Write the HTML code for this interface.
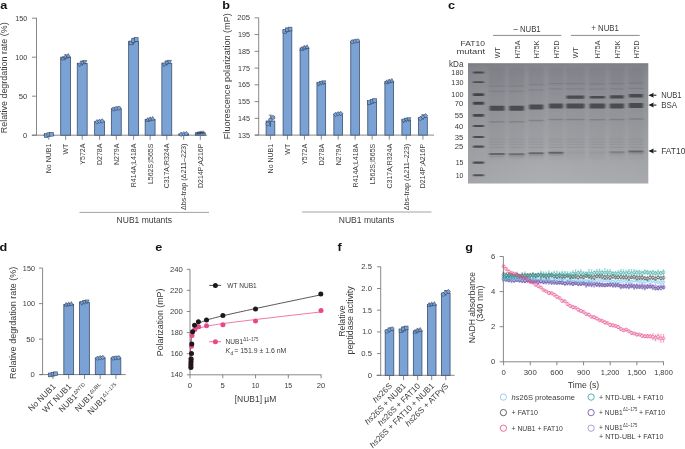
<!DOCTYPE html>
<html><head><meta charset="utf-8"><style>
html,body{margin:0;padding:0;background:#fff;overflow:hidden;}
svg{display:block;font-family:"Liberation Sans", sans-serif;filter:blur(0.3px);}
</style></head><body>
<svg width="685" height="449" viewBox="0 0 685 449">
<rect width="685" height="449" fill="#fff"/>
<text x="0.30" y="8.70" font-size="11.5" text-anchor="start" fill="#141414" font-weight="bold" textLength="7.03" lengthAdjust="spacingAndGlyphs">a</text>
<line x1="36.50" y1="17.80" x2="36.50" y2="135.20" stroke="#6a6a6a" stroke-width="0.8"/>
<line x1="32.00" y1="135.20" x2="36.50" y2="135.20" stroke="#6a6a6a" stroke-width="0.8"/>
<text x="27.30" y="137.65" font-size="6.9" text-anchor="end" fill="#3a3a3a" font-weight="normal" textLength="4.28" lengthAdjust="spacingAndGlyphs">0</text>
<line x1="32.00" y1="96.20" x2="36.50" y2="96.20" stroke="#6a6a6a" stroke-width="0.8"/>
<text x="27.30" y="98.65" font-size="6.9" text-anchor="end" fill="#3a3a3a" font-weight="normal" textLength="8.56" lengthAdjust="spacingAndGlyphs">50</text>
<line x1="32.00" y1="57.20" x2="36.50" y2="57.20" stroke="#6a6a6a" stroke-width="0.8"/>
<text x="27.30" y="59.65" font-size="6.9" text-anchor="end" fill="#3a3a3a" font-weight="normal" textLength="12.01" lengthAdjust="spacingAndGlyphs">100</text>
<line x1="32.00" y1="18.20" x2="36.50" y2="18.20" stroke="#6a6a6a" stroke-width="0.8"/>
<text x="27.30" y="20.65" font-size="6.9" text-anchor="end" fill="#3a3a3a" font-weight="normal" textLength="12.01" lengthAdjust="spacingAndGlyphs">150</text>
<line x1="31.80" y1="135.20" x2="207.20" y2="135.20" stroke="#6a6a6a" stroke-width="0.8"/>
<text x="7.30" y="77.80" font-size="8.8" text-anchor="middle" fill="#3a3a3a" font-weight="normal" transform="rotate(-90 7.30 77.80)" textLength="110.80" lengthAdjust="spacingAndGlyphs">Relative degrdation rate (%)</text>
<rect x="43.85" y="134.97" width="9.90" height="0.23" fill="#7aa2d5" stroke="#3d4f6e" stroke-width="0.8"/>
<rect x="60.70" y="57.20" width="9.90" height="78.00" fill="#7aa2d5" stroke="#3d4f6e" stroke-width="0.8"/>
<rect x="77.25" y="63.44" width="9.90" height="71.76" fill="#7aa2d5" stroke="#3d4f6e" stroke-width="0.8"/>
<rect x="94.65" y="121.47" width="9.90" height="13.73" fill="#7aa2d5" stroke="#3d4f6e" stroke-width="0.8"/>
<rect x="111.35" y="108.68" width="9.90" height="26.52" fill="#7aa2d5" stroke="#3d4f6e" stroke-width="0.8"/>
<rect x="128.65" y="41.37" width="9.90" height="93.83" fill="#7aa2d5" stroke="#3d4f6e" stroke-width="0.8"/>
<rect x="145.15" y="119.37" width="9.90" height="15.83" fill="#7aa2d5" stroke="#3d4f6e" stroke-width="0.8"/>
<rect x="161.85" y="63.28" width="9.90" height="71.92" fill="#7aa2d5" stroke="#3d4f6e" stroke-width="0.8"/>
<rect x="178.75" y="134.03" width="9.90" height="1.17" fill="#7aa2d5" stroke="#3d4f6e" stroke-width="0.8"/>
<rect x="195.35" y="132.86" width="9.90" height="2.34" fill="#7aa2d5" stroke="#3d4f6e" stroke-width="0.8"/>
<line x1="48.80" y1="133.80" x2="48.80" y2="136.14" stroke="#222" stroke-width="0.55"/>
<line x1="47.00" y1="133.80" x2="50.60" y2="133.80" stroke="#222" stroke-width="0.55"/>
<rect x="44.30" y="133.65" width="3.80" height="3.80" fill="#7aa2d5" stroke="#2d3f5c" stroke-width="0.55"/>
<rect x="46.90" y="132.83" width="3.80" height="3.80" fill="#7aa2d5" stroke="#2d3f5c" stroke-width="0.55"/>
<rect x="49.50" y="132.36" width="3.80" height="3.80" fill="#7aa2d5" stroke="#2d3f5c" stroke-width="0.55"/>
<line x1="65.65" y1="54.86" x2="65.65" y2="59.54" stroke="#222" stroke-width="0.55"/>
<line x1="63.85" y1="54.86" x2="67.45" y2="54.86" stroke="#222" stroke-width="0.55"/>
<path d="M63.05 56.09L65.14 59.89L60.96 59.89Z" fill="#7aa2d5" stroke="#2d3f5c" stroke-width="0.55"/>
<path d="M65.65 54.45L67.74 58.25L63.56 58.25Z" fill="#7aa2d5" stroke="#2d3f5c" stroke-width="0.55"/>
<path d="M68.25 53.52L70.34 57.32L66.16 57.32Z" fill="#7aa2d5" stroke="#2d3f5c" stroke-width="0.55"/>
<line x1="82.20" y1="61.10" x2="82.20" y2="65.78" stroke="#222" stroke-width="0.55"/>
<line x1="80.40" y1="61.10" x2="84.00" y2="61.10" stroke="#222" stroke-width="0.55"/>
<path d="M79.60 66.89L81.69 63.09L77.51 63.09Z" fill="#7aa2d5" stroke="#2d3f5c" stroke-width="0.55"/>
<path d="M82.20 65.25L84.29 61.45L80.11 61.45Z" fill="#7aa2d5" stroke="#2d3f5c" stroke-width="0.55"/>
<path d="M84.80 64.32L86.89 60.52L82.71 60.52Z" fill="#7aa2d5" stroke="#2d3f5c" stroke-width="0.55"/>
<line x1="99.60" y1="120.69" x2="99.60" y2="122.25" stroke="#222" stroke-width="0.55"/>
<line x1="97.80" y1="120.69" x2="101.40" y2="120.69" stroke="#222" stroke-width="0.55"/>
<path d="M97.00 119.58L99.09 121.86L97.00 124.14L94.91 121.86Z" fill="#7aa2d5" stroke="#2d3f5c" stroke-width="0.55"/>
<path d="M99.60 119.04L101.69 121.32L99.60 123.60L97.51 121.32Z" fill="#7aa2d5" stroke="#2d3f5c" stroke-width="0.55"/>
<path d="M102.20 118.72L104.29 121.00L102.20 123.28L100.11 121.00Z" fill="#7aa2d5" stroke="#2d3f5c" stroke-width="0.55"/>
<line x1="116.30" y1="107.90" x2="116.30" y2="109.46" stroke="#222" stroke-width="0.55"/>
<line x1="114.50" y1="107.90" x2="118.10" y2="107.90" stroke="#222" stroke-width="0.55"/>
<circle cx="113.70" cy="109.07" r="1.90" fill="#7aa2d5" stroke="#2d3f5c" stroke-width="0.55"/>
<circle cx="116.30" cy="108.52" r="1.90" fill="#7aa2d5" stroke="#2d3f5c" stroke-width="0.55"/>
<circle cx="118.90" cy="108.21" r="1.90" fill="#7aa2d5" stroke="#2d3f5c" stroke-width="0.55"/>
<line x1="133.60" y1="38.25" x2="133.60" y2="44.49" stroke="#222" stroke-width="0.55"/>
<line x1="131.80" y1="38.25" x2="135.40" y2="38.25" stroke="#222" stroke-width="0.55"/>
<rect x="129.10" y="41.03" width="3.80" height="3.80" fill="#7aa2d5" stroke="#2d3f5c" stroke-width="0.55"/>
<rect x="131.70" y="38.84" width="3.80" height="3.80" fill="#7aa2d5" stroke="#2d3f5c" stroke-width="0.55"/>
<rect x="134.30" y="37.59" width="3.80" height="3.80" fill="#7aa2d5" stroke="#2d3f5c" stroke-width="0.55"/>
<line x1="150.10" y1="118.20" x2="150.10" y2="120.54" stroke="#222" stroke-width="0.55"/>
<line x1="148.30" y1="118.20" x2="151.90" y2="118.20" stroke="#222" stroke-width="0.55"/>
<path d="M147.50 117.67L149.59 121.47L145.41 121.47Z" fill="#7aa2d5" stroke="#2d3f5c" stroke-width="0.55"/>
<path d="M150.10 116.85L152.19 120.65L148.01 120.65Z" fill="#7aa2d5" stroke="#2d3f5c" stroke-width="0.55"/>
<path d="M152.70 116.38L154.79 120.18L150.61 120.18Z" fill="#7aa2d5" stroke="#2d3f5c" stroke-width="0.55"/>
<line x1="166.80" y1="60.94" x2="166.80" y2="65.62" stroke="#222" stroke-width="0.55"/>
<line x1="165.00" y1="60.94" x2="168.60" y2="60.94" stroke="#222" stroke-width="0.55"/>
<path d="M164.20 66.73L166.29 62.93L162.11 62.93Z" fill="#7aa2d5" stroke="#2d3f5c" stroke-width="0.55"/>
<path d="M166.80 65.10L168.89 61.30L164.71 61.30Z" fill="#7aa2d5" stroke="#2d3f5c" stroke-width="0.55"/>
<path d="M169.40 64.16L171.49 60.36L167.31 60.36Z" fill="#7aa2d5" stroke="#2d3f5c" stroke-width="0.55"/>
<line x1="183.70" y1="133.41" x2="183.70" y2="134.65" stroke="#222" stroke-width="0.55"/>
<line x1="181.90" y1="133.41" x2="185.50" y2="133.41" stroke="#222" stroke-width="0.55"/>
<path d="M181.10 132.06L183.19 134.34L181.10 136.62L179.01 134.34Z" fill="#7aa2d5" stroke="#2d3f5c" stroke-width="0.55"/>
<path d="M183.70 131.63L185.79 133.91L183.70 136.19L181.61 133.91Z" fill="#7aa2d5" stroke="#2d3f5c" stroke-width="0.55"/>
<path d="M186.30 131.38L188.39 133.66L186.30 135.94L184.21 133.66Z" fill="#7aa2d5" stroke="#2d3f5c" stroke-width="0.55"/>
<line x1="200.30" y1="132.08" x2="200.30" y2="133.64" stroke="#222" stroke-width="0.55"/>
<line x1="198.50" y1="132.08" x2="202.10" y2="132.08" stroke="#222" stroke-width="0.55"/>
<path d="M195.80 133.25H199.60M197.70 131.35V135.15M196.37 131.92L199.03 134.58M199.03 131.92L196.37 134.58" stroke="#2d3f5c" stroke-width="0.55"/>
<path d="M198.40 132.70H202.20M200.30 130.80V134.60M198.97 131.37L201.63 134.03M201.63 131.37L198.97 134.03" stroke="#2d3f5c" stroke-width="0.55"/>
<path d="M201.00 132.39H204.80M202.90 130.49V134.29M201.57 131.06L204.23 133.72M204.23 131.06L201.57 133.72" stroke="#2d3f5c" stroke-width="0.55"/>
<line x1="48.80" y1="135.20" x2="48.80" y2="139.80" stroke="#6a6a6a" stroke-width="0.8"/>
<text x="51.30" y="143.60" font-size="7" text-anchor="end" fill="#3a3a3a" font-weight="normal" transform="rotate(-90 51.30 143.60)">No NUB1</text>
<line x1="65.65" y1="135.20" x2="65.65" y2="139.80" stroke="#6a6a6a" stroke-width="0.8"/>
<text x="68.15" y="143.60" font-size="7" text-anchor="end" fill="#3a3a3a" font-weight="normal" transform="rotate(-90 68.15 143.60)">WT</text>
<line x1="82.20" y1="135.20" x2="82.20" y2="139.80" stroke="#6a6a6a" stroke-width="0.8"/>
<text x="84.70" y="143.60" font-size="7" text-anchor="end" fill="#3a3a3a" font-weight="normal" transform="rotate(-90 84.70 143.60)">Y572A</text>
<line x1="99.60" y1="135.20" x2="99.60" y2="139.80" stroke="#6a6a6a" stroke-width="0.8"/>
<text x="102.10" y="143.60" font-size="7" text-anchor="end" fill="#3a3a3a" font-weight="normal" transform="rotate(-90 102.10 143.60)">D278A</text>
<line x1="116.30" y1="135.20" x2="116.30" y2="139.80" stroke="#6a6a6a" stroke-width="0.8"/>
<text x="118.80" y="143.60" font-size="7" text-anchor="end" fill="#3a3a3a" font-weight="normal" transform="rotate(-90 118.80 143.60)">N279A</text>
<line x1="133.60" y1="135.20" x2="133.60" y2="139.80" stroke="#6a6a6a" stroke-width="0.8"/>
<text x="136.10" y="143.60" font-size="7" text-anchor="end" fill="#3a3a3a" font-weight="normal" transform="rotate(-90 136.10 143.60)">R414A;L418A</text>
<line x1="150.10" y1="135.20" x2="150.10" y2="139.80" stroke="#6a6a6a" stroke-width="0.8"/>
<text x="152.60" y="143.60" font-size="7" text-anchor="end" fill="#3a3a3a" font-weight="normal" transform="rotate(-90 152.60 143.60)">L562S;I565S</text>
<line x1="166.80" y1="135.20" x2="166.80" y2="139.80" stroke="#6a6a6a" stroke-width="0.8"/>
<text x="169.30" y="143.60" font-size="7" text-anchor="end" fill="#3a3a3a" font-weight="normal" transform="rotate(-90 169.30 143.60)">C317A;R324A</text>
<line x1="183.70" y1="135.20" x2="183.70" y2="139.80" stroke="#6a6a6a" stroke-width="0.8"/>
<text x="186.20" y="143.60" font-size="7" text-anchor="end" fill="#3a3a3a" font-weight="normal" transform="rotate(-90 186.20 143.60)" textLength="66.50" lengthAdjust="spacingAndGlyphs">Δbs-trap (Δ211–223)</text>
<line x1="200.30" y1="135.20" x2="200.30" y2="139.80" stroke="#6a6a6a" stroke-width="0.8"/>
<text x="202.80" y="143.60" font-size="7" text-anchor="end" fill="#3a3a3a" font-weight="normal" transform="rotate(-90 202.80 143.60)">D214P;A216P</text>
<line x1="79.50" y1="212.40" x2="209.00" y2="212.40" stroke="#8a8a8a" stroke-width="0.8"/>
<text x="144.30" y="222.90" font-size="8.4" text-anchor="middle" fill="#3a3a3a" font-weight="normal" textLength="55.40" lengthAdjust="spacingAndGlyphs">NUB1 mutants</text>
<text x="222.20" y="9.00" font-size="11.5" text-anchor="start" fill="#141414" font-weight="bold" textLength="7.73" lengthAdjust="spacingAndGlyphs">b</text>
<line x1="258.70" y1="17.80" x2="258.70" y2="135.10" stroke="#6a6a6a" stroke-width="0.8"/>
<line x1="254.60" y1="135.10" x2="258.70" y2="135.10" stroke="#6a6a6a" stroke-width="0.8"/>
<text x="250.00" y="137.55" font-size="6.9" text-anchor="end" fill="#3a3a3a" font-weight="normal" textLength="12.01" lengthAdjust="spacingAndGlyphs">135</text>
<line x1="254.60" y1="118.35" x2="258.70" y2="118.35" stroke="#6a6a6a" stroke-width="0.8"/>
<text x="250.00" y="120.80" font-size="6.9" text-anchor="end" fill="#3a3a3a" font-weight="normal" textLength="12.01" lengthAdjust="spacingAndGlyphs">145</text>
<line x1="254.60" y1="101.60" x2="258.70" y2="101.60" stroke="#6a6a6a" stroke-width="0.8"/>
<text x="250.00" y="104.05" font-size="6.9" text-anchor="end" fill="#3a3a3a" font-weight="normal" textLength="12.01" lengthAdjust="spacingAndGlyphs">155</text>
<line x1="254.60" y1="84.85" x2="258.70" y2="84.85" stroke="#6a6a6a" stroke-width="0.8"/>
<text x="250.00" y="87.30" font-size="6.9" text-anchor="end" fill="#3a3a3a" font-weight="normal" textLength="12.01" lengthAdjust="spacingAndGlyphs">165</text>
<line x1="254.60" y1="68.10" x2="258.70" y2="68.10" stroke="#6a6a6a" stroke-width="0.8"/>
<text x="250.00" y="70.55" font-size="6.9" text-anchor="end" fill="#3a3a3a" font-weight="normal" textLength="12.01" lengthAdjust="spacingAndGlyphs">175</text>
<line x1="254.60" y1="51.35" x2="258.70" y2="51.35" stroke="#6a6a6a" stroke-width="0.8"/>
<text x="250.00" y="53.80" font-size="6.9" text-anchor="end" fill="#3a3a3a" font-weight="normal" textLength="12.01" lengthAdjust="spacingAndGlyphs">185</text>
<line x1="254.60" y1="34.60" x2="258.70" y2="34.60" stroke="#6a6a6a" stroke-width="0.8"/>
<text x="250.00" y="37.05" font-size="6.9" text-anchor="end" fill="#3a3a3a" font-weight="normal" textLength="12.01" lengthAdjust="spacingAndGlyphs">195</text>
<line x1="254.60" y1="17.85" x2="258.70" y2="17.85" stroke="#6a6a6a" stroke-width="0.8"/>
<text x="250.00" y="20.30" font-size="6.9" text-anchor="end" fill="#3a3a3a" font-weight="normal" textLength="12.83" lengthAdjust="spacingAndGlyphs">205</text>
<line x1="255.00" y1="135.10" x2="434.00" y2="135.10" stroke="#6a6a6a" stroke-width="0.8"/>
<text x="230.00" y="76.20" font-size="8.8" text-anchor="middle" fill="#3a3a3a" font-weight="normal" transform="rotate(-90 230.00 76.20)" textLength="126.00" lengthAdjust="spacingAndGlyphs">Fluorescence polarization (mP)</text>
<rect x="266.10" y="121.03" width="8.70" height="14.07" fill="#7aa2d5" stroke="#3d4f6e" stroke-width="0.8"/>
<rect x="283.10" y="30.25" width="8.70" height="104.85" fill="#7aa2d5" stroke="#3d4f6e" stroke-width="0.8"/>
<rect x="300.10" y="48.00" width="8.70" height="87.10" fill="#7aa2d5" stroke="#3d4f6e" stroke-width="0.8"/>
<rect x="316.95" y="83.17" width="8.70" height="51.93" fill="#7aa2d5" stroke="#3d4f6e" stroke-width="0.8"/>
<rect x="333.85" y="114.00" width="8.70" height="21.10" fill="#7aa2d5" stroke="#3d4f6e" stroke-width="0.8"/>
<rect x="350.75" y="41.30" width="8.70" height="93.80" fill="#7aa2d5" stroke="#3d4f6e" stroke-width="0.8"/>
<rect x="367.75" y="101.60" width="8.70" height="33.50" fill="#7aa2d5" stroke="#3d4f6e" stroke-width="0.8"/>
<rect x="384.90" y="81.50" width="8.70" height="53.60" fill="#7aa2d5" stroke="#3d4f6e" stroke-width="0.8"/>
<rect x="401.90" y="120.02" width="8.70" height="15.08" fill="#7aa2d5" stroke="#3d4f6e" stroke-width="0.8"/>
<rect x="418.60" y="117.34" width="8.70" height="17.75" fill="#7aa2d5" stroke="#3d4f6e" stroke-width="0.8"/>
<line x1="270.45" y1="115.17" x2="270.45" y2="126.89" stroke="#222" stroke-width="0.55"/>
<line x1="268.65" y1="115.17" x2="272.25" y2="115.17" stroke="#222" stroke-width="0.55"/>
<circle cx="267.85" cy="123.96" r="1.90" fill="#7aa2d5" stroke="#2d3f5c" stroke-width="0.55"/>
<circle cx="270.45" cy="119.86" r="1.90" fill="#7aa2d5" stroke="#2d3f5c" stroke-width="0.55"/>
<circle cx="273.05" cy="117.51" r="1.90" fill="#7aa2d5" stroke="#2d3f5c" stroke-width="0.55"/>
<line x1="287.45" y1="28.24" x2="287.45" y2="32.25" stroke="#222" stroke-width="0.55"/>
<line x1="285.65" y1="28.24" x2="289.25" y2="28.24" stroke="#222" stroke-width="0.55"/>
<rect x="282.95" y="29.35" width="3.80" height="3.80" fill="#7aa2d5" stroke="#2d3f5c" stroke-width="0.55"/>
<rect x="285.55" y="27.94" width="3.80" height="3.80" fill="#7aa2d5" stroke="#2d3f5c" stroke-width="0.55"/>
<rect x="288.15" y="27.14" width="3.80" height="3.80" fill="#7aa2d5" stroke="#2d3f5c" stroke-width="0.55"/>
<line x1="304.45" y1="46.32" x2="304.45" y2="49.67" stroke="#222" stroke-width="0.55"/>
<line x1="302.65" y1="46.32" x2="306.25" y2="46.32" stroke="#222" stroke-width="0.55"/>
<path d="M301.85 46.56L303.94 50.36L299.76 50.36Z" fill="#7aa2d5" stroke="#2d3f5c" stroke-width="0.55"/>
<path d="M304.45 45.39L306.54 49.19L302.36 49.19Z" fill="#7aa2d5" stroke="#2d3f5c" stroke-width="0.55"/>
<path d="M307.05 44.72L309.14 48.52L304.96 48.52Z" fill="#7aa2d5" stroke="#2d3f5c" stroke-width="0.55"/>
<line x1="321.30" y1="81.83" x2="321.30" y2="84.52" stroke="#222" stroke-width="0.55"/>
<line x1="319.50" y1="81.83" x2="323.10" y2="81.83" stroke="#222" stroke-width="0.55"/>
<path d="M318.70 86.12L320.79 82.33L316.61 82.33Z" fill="#7aa2d5" stroke="#2d3f5c" stroke-width="0.55"/>
<path d="M321.30 85.19L323.39 81.39L319.21 81.39Z" fill="#7aa2d5" stroke="#2d3f5c" stroke-width="0.55"/>
<path d="M323.90 84.65L325.99 80.85L321.81 80.85Z" fill="#7aa2d5" stroke="#2d3f5c" stroke-width="0.55"/>
<line x1="338.20" y1="113.16" x2="338.20" y2="114.83" stroke="#222" stroke-width="0.55"/>
<line x1="336.40" y1="113.16" x2="340.00" y2="113.16" stroke="#222" stroke-width="0.55"/>
<path d="M335.60 112.13L337.69 114.41L335.60 116.69L333.51 114.41Z" fill="#7aa2d5" stroke="#2d3f5c" stroke-width="0.55"/>
<path d="M338.20 111.55L340.29 113.83L338.20 116.11L336.11 113.83Z" fill="#7aa2d5" stroke="#2d3f5c" stroke-width="0.55"/>
<path d="M340.80 111.21L342.89 113.49L340.80 115.77L338.71 113.49Z" fill="#7aa2d5" stroke="#2d3f5c" stroke-width="0.55"/>
<line x1="355.10" y1="40.46" x2="355.10" y2="42.14" stroke="#222" stroke-width="0.55"/>
<line x1="353.30" y1="40.46" x2="356.90" y2="40.46" stroke="#222" stroke-width="0.55"/>
<circle cx="352.50" cy="41.72" r="1.90" fill="#7aa2d5" stroke="#2d3f5c" stroke-width="0.55"/>
<circle cx="355.10" cy="41.13" r="1.90" fill="#7aa2d5" stroke="#2d3f5c" stroke-width="0.55"/>
<circle cx="357.70" cy="40.80" r="1.90" fill="#7aa2d5" stroke="#2d3f5c" stroke-width="0.55"/>
<line x1="372.10" y1="99.92" x2="372.10" y2="103.27" stroke="#222" stroke-width="0.55"/>
<line x1="370.30" y1="99.92" x2="373.90" y2="99.92" stroke="#222" stroke-width="0.55"/>
<rect x="367.60" y="100.54" width="3.80" height="3.80" fill="#7aa2d5" stroke="#2d3f5c" stroke-width="0.55"/>
<rect x="370.20" y="99.37" width="3.80" height="3.80" fill="#7aa2d5" stroke="#2d3f5c" stroke-width="0.55"/>
<rect x="372.80" y="98.69" width="3.80" height="3.80" fill="#7aa2d5" stroke="#2d3f5c" stroke-width="0.55"/>
<line x1="389.25" y1="80.16" x2="389.25" y2="82.84" stroke="#222" stroke-width="0.55"/>
<line x1="387.45" y1="80.16" x2="391.05" y2="80.16" stroke="#222" stroke-width="0.55"/>
<path d="M386.65 79.89L388.74 83.69L384.56 83.69Z" fill="#7aa2d5" stroke="#2d3f5c" stroke-width="0.55"/>
<path d="M389.25 78.95L391.34 82.75L387.16 82.75Z" fill="#7aa2d5" stroke="#2d3f5c" stroke-width="0.55"/>
<path d="M391.85 78.42L393.94 82.22L389.76 82.22Z" fill="#7aa2d5" stroke="#2d3f5c" stroke-width="0.55"/>
<line x1="406.25" y1="118.68" x2="406.25" y2="121.37" stroke="#222" stroke-width="0.55"/>
<line x1="404.45" y1="118.68" x2="408.05" y2="118.68" stroke="#222" stroke-width="0.55"/>
<path d="M403.65 122.98L405.74 119.18L401.56 119.18Z" fill="#7aa2d5" stroke="#2d3f5c" stroke-width="0.55"/>
<path d="M406.25 122.04L408.34 118.24L404.16 118.24Z" fill="#7aa2d5" stroke="#2d3f5c" stroke-width="0.55"/>
<path d="M408.85 121.50L410.94 117.70L406.76 117.70Z" fill="#7aa2d5" stroke="#2d3f5c" stroke-width="0.55"/>
<line x1="422.95" y1="114.83" x2="422.95" y2="119.86" stroke="#222" stroke-width="0.55"/>
<line x1="421.15" y1="114.83" x2="424.75" y2="114.83" stroke="#222" stroke-width="0.55"/>
<path d="M420.35 116.32L422.44 118.60L420.35 120.88L418.26 118.60Z" fill="#7aa2d5" stroke="#2d3f5c" stroke-width="0.55"/>
<path d="M422.95 114.56L425.04 116.84L422.95 119.12L420.86 116.84Z" fill="#7aa2d5" stroke="#2d3f5c" stroke-width="0.55"/>
<path d="M425.55 113.56L427.64 115.84L425.55 118.12L423.46 115.84Z" fill="#7aa2d5" stroke="#2d3f5c" stroke-width="0.55"/>
<line x1="270.45" y1="135.10" x2="270.45" y2="139.60" stroke="#6a6a6a" stroke-width="0.8"/>
<text x="272.95" y="143.80" font-size="7" text-anchor="end" fill="#3a3a3a" font-weight="normal" transform="rotate(-90 272.95 143.80)">No NUB1</text>
<line x1="287.45" y1="135.10" x2="287.45" y2="139.60" stroke="#6a6a6a" stroke-width="0.8"/>
<text x="289.95" y="143.80" font-size="7" text-anchor="end" fill="#3a3a3a" font-weight="normal" transform="rotate(-90 289.95 143.80)">WT</text>
<line x1="304.45" y1="135.10" x2="304.45" y2="139.60" stroke="#6a6a6a" stroke-width="0.8"/>
<text x="306.95" y="143.80" font-size="7" text-anchor="end" fill="#3a3a3a" font-weight="normal" transform="rotate(-90 306.95 143.80)">Y572A</text>
<line x1="321.30" y1="135.10" x2="321.30" y2="139.60" stroke="#6a6a6a" stroke-width="0.8"/>
<text x="323.80" y="143.80" font-size="7" text-anchor="end" fill="#3a3a3a" font-weight="normal" transform="rotate(-90 323.80 143.80)">D278A</text>
<line x1="338.20" y1="135.10" x2="338.20" y2="139.60" stroke="#6a6a6a" stroke-width="0.8"/>
<text x="340.70" y="143.80" font-size="7" text-anchor="end" fill="#3a3a3a" font-weight="normal" transform="rotate(-90 340.70 143.80)">N279A</text>
<line x1="355.10" y1="135.10" x2="355.10" y2="139.60" stroke="#6a6a6a" stroke-width="0.8"/>
<text x="357.60" y="143.80" font-size="7" text-anchor="end" fill="#3a3a3a" font-weight="normal" transform="rotate(-90 357.60 143.80)">R414A;L418A</text>
<line x1="372.10" y1="135.10" x2="372.10" y2="139.60" stroke="#6a6a6a" stroke-width="0.8"/>
<text x="374.60" y="143.80" font-size="7" text-anchor="end" fill="#3a3a3a" font-weight="normal" transform="rotate(-90 374.60 143.80)">L562S;I565S</text>
<line x1="389.25" y1="135.10" x2="389.25" y2="139.60" stroke="#6a6a6a" stroke-width="0.8"/>
<text x="391.75" y="143.80" font-size="7" text-anchor="end" fill="#3a3a3a" font-weight="normal" transform="rotate(-90 391.75 143.80)">C317A;R324A</text>
<line x1="406.25" y1="135.10" x2="406.25" y2="139.60" stroke="#6a6a6a" stroke-width="0.8"/>
<text x="408.75" y="143.80" font-size="7" text-anchor="end" fill="#3a3a3a" font-weight="normal" transform="rotate(-90 408.75 143.80)" textLength="66.50" lengthAdjust="spacingAndGlyphs">Δbs-trap (Δ211–223)</text>
<line x1="422.95" y1="135.10" x2="422.95" y2="139.60" stroke="#6a6a6a" stroke-width="0.8"/>
<text x="425.45" y="143.80" font-size="7" text-anchor="end" fill="#3a3a3a" font-weight="normal" transform="rotate(-90 425.45 143.80)">D214P;A216P</text>
<line x1="302.00" y1="212.00" x2="431.50" y2="212.00" stroke="#8a8a8a" stroke-width="0.8"/>
<text x="366.50" y="222.60" font-size="8.4" text-anchor="middle" fill="#3a3a3a" font-weight="normal" textLength="55.40" lengthAdjust="spacingAndGlyphs">NUB1 mutants</text>
<text x="448.10" y="9.10" font-size="11.5" text-anchor="start" fill="#141414" font-weight="bold" textLength="7.03" lengthAdjust="spacingAndGlyphs">c</text>
<text x="527.10" y="31.60" font-size="8.3" text-anchor="middle" fill="#3a3a3a" font-weight="normal" textLength="27.20" lengthAdjust="spacingAndGlyphs">– NUB1</text>
<line x1="493.00" y1="35.40" x2="561.30" y2="35.40" stroke="#666" stroke-width="0.75"/>
<text x="605.10" y="31.40" font-size="8.3" text-anchor="middle" fill="#3a3a3a" font-weight="normal" textLength="27.60" lengthAdjust="spacingAndGlyphs">+ NUB1</text>
<line x1="571.00" y1="35.40" x2="639.70" y2="35.40" stroke="#666" stroke-width="0.75"/>
<text x="485.00" y="45.80" font-size="8.0" text-anchor="end" fill="#3a3a3a" font-weight="normal" textLength="24.40" lengthAdjust="spacingAndGlyphs">FAT10</text>
<text x="485.00" y="54.10" font-size="8.0" text-anchor="end" fill="#3a3a3a" font-weight="normal" textLength="28.60" lengthAdjust="spacingAndGlyphs">mutant</text>
<text x="449.00" y="66.60" font-size="8.2" text-anchor="start" fill="#3a3a3a" font-weight="normal" textLength="14.40" lengthAdjust="spacingAndGlyphs">kDa</text>
<text x="499.95" y="58.20" font-size="7.4" text-anchor="start" fill="#3a3a3a" font-weight="normal" transform="rotate(-90 499.95 58.20)" textLength="11.20" lengthAdjust="spacingAndGlyphs">WT</text>
<text x="519.55" y="58.20" font-size="7.4" text-anchor="start" fill="#3a3a3a" font-weight="normal" transform="rotate(-90 519.55 58.20)" textLength="17.60" lengthAdjust="spacingAndGlyphs">H75A</text>
<text x="539.10" y="58.20" font-size="7.4" text-anchor="start" fill="#3a3a3a" font-weight="normal" transform="rotate(-90 539.10 58.20)" textLength="17.60" lengthAdjust="spacingAndGlyphs">H75K</text>
<text x="558.90" y="58.20" font-size="7.4" text-anchor="start" fill="#3a3a3a" font-weight="normal" transform="rotate(-90 558.90 58.20)" textLength="17.60" lengthAdjust="spacingAndGlyphs">H75D</text>
<text x="578.30" y="58.20" font-size="7.4" text-anchor="start" fill="#3a3a3a" font-weight="normal" transform="rotate(-90 578.30 58.20)" textLength="11.20" lengthAdjust="spacingAndGlyphs">WT</text>
<text x="600.30" y="58.20" font-size="7.4" text-anchor="start" fill="#3a3a3a" font-weight="normal" transform="rotate(-90 600.30 58.20)" textLength="17.60" lengthAdjust="spacingAndGlyphs">H75A</text>
<text x="619.80" y="58.20" font-size="7.4" text-anchor="start" fill="#3a3a3a" font-weight="normal" transform="rotate(-90 619.80 58.20)" textLength="17.60" lengthAdjust="spacingAndGlyphs">H75K</text>
<text x="638.80" y="58.20" font-size="7.4" text-anchor="start" fill="#3a3a3a" font-weight="normal" transform="rotate(-90 638.80 58.20)" textLength="17.60" lengthAdjust="spacingAndGlyphs">H75D</text>
<text x="463.40" y="74.90" font-size="6.9" text-anchor="end" fill="#3a3a3a" font-weight="normal" textLength="12.01" lengthAdjust="spacingAndGlyphs">180</text>
<text x="463.40" y="84.60" font-size="6.9" text-anchor="end" fill="#3a3a3a" font-weight="normal" textLength="12.01" lengthAdjust="spacingAndGlyphs">130</text>
<text x="463.40" y="97.20" font-size="6.9" text-anchor="end" fill="#3a3a3a" font-weight="normal" textLength="12.01" lengthAdjust="spacingAndGlyphs">100</text>
<text x="463.40" y="105.70" font-size="6.9" text-anchor="end" fill="#3a3a3a" font-weight="normal" textLength="8.56" lengthAdjust="spacingAndGlyphs">70</text>
<text x="463.40" y="117.80" font-size="6.9" text-anchor="end" fill="#3a3a3a" font-weight="normal" textLength="8.56" lengthAdjust="spacingAndGlyphs">55</text>
<text x="463.40" y="128.50" font-size="6.9" text-anchor="end" fill="#3a3a3a" font-weight="normal" textLength="8.56" lengthAdjust="spacingAndGlyphs">40</text>
<text x="463.40" y="139.50" font-size="6.9" text-anchor="end" fill="#3a3a3a" font-weight="normal" textLength="8.56" lengthAdjust="spacingAndGlyphs">35</text>
<text x="463.40" y="149.20" font-size="6.9" text-anchor="end" fill="#3a3a3a" font-weight="normal" textLength="8.56" lengthAdjust="spacingAndGlyphs">25</text>
<text x="463.40" y="165.10" font-size="6.9" text-anchor="end" fill="#3a3a3a" font-weight="normal" textLength="7.73" lengthAdjust="spacingAndGlyphs">15</text>
<text x="463.40" y="177.80" font-size="6.9" text-anchor="end" fill="#3a3a3a" font-weight="normal" textLength="7.73" lengthAdjust="spacingAndGlyphs">10</text>
<defs><linearGradient id="gg" x1="0" y1="0" x2="0" y2="1"><stop offset="0" stop-color="#818288"/><stop offset="0.03" stop-color="#898a90"/><stop offset="0.12" stop-color="#8f9096"/><stop offset="0.4" stop-color="#9a9b9f"/><stop offset="0.7" stop-color="#a5a6a9"/><stop offset="1" stop-color="#adaeb1"/></linearGradient><linearGradient id="gh" x1="0" y1="0" x2="1" y2="0"><stop offset="0" stop-color="#000" stop-opacity="0.05"/><stop offset="0.4" stop-color="#000" stop-opacity="0"/><stop offset="1" stop-color="#000" stop-opacity="0.03"/></linearGradient><filter id="bl" color-interpolation-filters="sRGB" x="-30%" y="-300%" width="160%" height="700%"><feGaussianBlur stdDeviation="1.0 0.6"/></filter><filter id="bl2" color-interpolation-filters="sRGB" x="-30%" y="-50%" width="160%" height="200%"><feGaussianBlur stdDeviation="1.0 1.5"/></filter></defs>
<rect x="468.0" y="63.2" width="180.3" height="120.3" fill="url(#gg)"/>
<rect x="468.0" y="63.2" width="180.3" height="120.3" fill="url(#gh)"/>
<g filter="url(#bl2)"><rect x="489.20" y="67" width="15.7" height="18" fill="#50535f" opacity="0.13"/><rect x="489.20" y="85" width="15.7" height="40" fill="#50535f" opacity="0.07"/><rect x="489.20" y="125" width="15.7" height="35" fill="#50535f" opacity="0.06"/><rect x="508.80" y="67" width="15.7" height="18" fill="#50535f" opacity="0.13"/><rect x="508.80" y="85" width="15.7" height="40" fill="#50535f" opacity="0.07"/><rect x="508.80" y="125" width="15.7" height="35" fill="#50535f" opacity="0.06"/><rect x="528.65" y="67" width="15.1" height="18" fill="#50535f" opacity="0.13"/><rect x="528.65" y="85" width="15.1" height="40" fill="#50535f" opacity="0.07"/><rect x="528.65" y="125" width="15.1" height="35" fill="#50535f" opacity="0.06"/><rect x="548.60" y="67" width="14.8" height="18" fill="#50535f" opacity="0.13"/><rect x="548.60" y="85" width="14.8" height="40" fill="#50535f" opacity="0.07"/><rect x="548.60" y="125" width="14.8" height="35" fill="#50535f" opacity="0.06"/><rect x="565.90" y="67" width="19.0" height="18" fill="#50535f" opacity="0.13"/><rect x="565.90" y="85" width="19.0" height="40" fill="#50535f" opacity="0.07"/><rect x="565.90" y="125" width="19.0" height="35" fill="#50535f" opacity="0.06"/><rect x="589.15" y="67" width="16.5" height="18" fill="#50535f" opacity="0.13"/><rect x="589.15" y="85" width="16.5" height="40" fill="#50535f" opacity="0.07"/><rect x="589.15" y="125" width="16.5" height="35" fill="#50535f" opacity="0.06"/><rect x="609.35" y="67" width="15.1" height="18" fill="#50535f" opacity="0.13"/><rect x="609.35" y="85" width="15.1" height="40" fill="#50535f" opacity="0.07"/><rect x="609.35" y="125" width="15.1" height="35" fill="#50535f" opacity="0.06"/><rect x="628.35" y="67" width="15.1" height="18" fill="#50535f" opacity="0.13"/><rect x="628.35" y="85" width="15.1" height="40" fill="#50535f" opacity="0.07"/><rect x="628.35" y="125" width="15.1" height="35" fill="#50535f" opacity="0.06"/></g>
<g filter="url(#bl)"><rect x="473.0" y="71.40" width="11.0" height="2.0" rx="0.6" fill="#36373d" opacity="0.8"/><rect x="473.0" y="81.20" width="11.0" height="1.8" rx="0.6" fill="#36373d" opacity="0.75"/><rect x="473.0" y="93.35" width="11.0" height="2.7" rx="0.6" fill="#36373d" opacity="0.85"/><rect x="473.0" y="101.70" width="11.0" height="3.0" rx="0.6" fill="#36373d" opacity="0.88"/><rect x="473.0" y="113.95" width="11.0" height="2.7" rx="0.6" fill="#36373d" opacity="0.85"/><rect x="473.0" y="125.00" width="11.0" height="2.0" rx="0.6" fill="#36373d" opacity="0.8"/><rect x="473.0" y="135.95" width="11.0" height="2.1" rx="0.6" fill="#36373d" opacity="0.8"/><rect x="473.0" y="145.60" width="11.0" height="2.2" rx="0.6" fill="#36373d" opacity="0.8"/><rect x="473.0" y="161.45" width="11.0" height="2.3" rx="0.6" fill="#36373d" opacity="0.82"/><rect x="473.0" y="174.35" width="11.0" height="1.9" rx="0.6" fill="#36373d" opacity="0.75"/><rect x="489.60" y="105.80" width="14.899999999999999" height="5.0" rx="0.8" fill="#36373d" opacity="0.78"/><rect x="489.20" y="85.55" width="15.7" height="1.1" fill="#36373d" opacity="0.15"/><rect x="489.20" y="90.75" width="15.7" height="1.1" fill="#36373d" opacity="0.15"/><rect x="489.20" y="121.25" width="15.7" height="1.3" fill="#36373d" opacity="0.24"/><rect x="489.20" y="138.60" width="15.7" height="1.2" fill="#36373d" opacity="0.07"/><rect x="489.20" y="141.20" width="15.7" height="1.2" fill="#36373d" opacity="0.06"/><rect x="489.20" y="143.80" width="15.7" height="1.2" fill="#36373d" opacity="0.06"/><rect x="489.20" y="146.80" width="15.7" height="1.2" fill="#36373d" opacity="0.09"/><rect x="489.20" y="153.00" width="15.7" height="2.0" rx="0.5" fill="#36373d" opacity="0.55"/><rect x="489.20" y="155.30" width="15.7" height="1.8" fill="#36373d" opacity="0.11"/><rect x="509.20" y="105.70" width="14.899999999999999" height="5.0" rx="0.8" fill="#36373d" opacity="0.78"/><rect x="508.80" y="85.45" width="15.7" height="1.1" fill="#36373d" opacity="0.15"/><rect x="508.80" y="90.65" width="15.7" height="1.1" fill="#36373d" opacity="0.15"/><rect x="508.80" y="121.15" width="15.7" height="1.3" fill="#36373d" opacity="0.24"/><rect x="508.80" y="138.60" width="15.7" height="1.2" fill="#36373d" opacity="0.07"/><rect x="508.80" y="141.20" width="15.7" height="1.2" fill="#36373d" opacity="0.06"/><rect x="508.80" y="143.80" width="15.7" height="1.2" fill="#36373d" opacity="0.06"/><rect x="508.80" y="146.80" width="15.7" height="1.2" fill="#36373d" opacity="0.09"/><rect x="508.80" y="153.30" width="15.7" height="2.0" rx="0.5" fill="#36373d" opacity="0.5"/><rect x="508.80" y="155.60" width="15.7" height="1.8" fill="#36373d" opacity="0.10"/><rect x="529.05" y="104.40" width="14.299999999999999" height="5.0" rx="0.8" fill="#36373d" opacity="0.78"/><rect x="528.65" y="84.15" width="15.1" height="1.1" fill="#36373d" opacity="0.15"/><rect x="528.65" y="89.35" width="15.1" height="1.1" fill="#36373d" opacity="0.15"/><rect x="528.65" y="119.85" width="15.1" height="1.3" fill="#36373d" opacity="0.24"/><rect x="528.65" y="138.60" width="15.1" height="1.2" fill="#36373d" opacity="0.07"/><rect x="528.65" y="141.20" width="15.1" height="1.2" fill="#36373d" opacity="0.06"/><rect x="528.65" y="143.80" width="15.1" height="1.2" fill="#36373d" opacity="0.06"/><rect x="528.65" y="146.80" width="15.1" height="1.2" fill="#36373d" opacity="0.09"/><rect x="528.65" y="152.20" width="15.1" height="2.0" rx="0.5" fill="#36373d" opacity="0.55"/><rect x="528.65" y="154.50" width="15.1" height="1.8" fill="#36373d" opacity="0.11"/><rect x="549.00" y="103.40" width="14.0" height="5.0" rx="0.8" fill="#36373d" opacity="0.78"/><rect x="548.60" y="83.15" width="14.8" height="1.1" fill="#36373d" opacity="0.15"/><rect x="548.60" y="88.35" width="14.8" height="1.1" fill="#36373d" opacity="0.15"/><rect x="548.60" y="118.85" width="14.8" height="1.3" fill="#36373d" opacity="0.24"/><rect x="548.60" y="138.60" width="14.8" height="1.2" fill="#36373d" opacity="0.07"/><rect x="548.60" y="141.20" width="14.8" height="1.2" fill="#36373d" opacity="0.06"/><rect x="548.60" y="143.80" width="14.8" height="1.2" fill="#36373d" opacity="0.06"/><rect x="548.60" y="146.80" width="14.8" height="1.2" fill="#36373d" opacity="0.09"/><rect x="548.60" y="151.70" width="14.8" height="2.0" rx="0.5" fill="#36373d" opacity="0.6"/><rect x="548.60" y="154.00" width="14.8" height="1.8" fill="#36373d" opacity="0.12"/><rect x="566.30" y="103.40" width="18.2" height="5.0" rx="0.8" fill="#36373d" opacity="0.78"/><rect x="565.90" y="83.15" width="19.0" height="1.1" fill="#36373d" opacity="0.15"/><rect x="565.90" y="88.35" width="19.0" height="1.1" fill="#36373d" opacity="0.15"/><rect x="565.90" y="118.85" width="19.0" height="1.3" fill="#36373d" opacity="0.24"/><rect x="565.90" y="138.60" width="19.0" height="1.2" fill="#36373d" opacity="0.07"/><rect x="565.90" y="141.20" width="19.0" height="1.2" fill="#36373d" opacity="0.06"/><rect x="565.90" y="143.80" width="19.0" height="1.2" fill="#36373d" opacity="0.06"/><rect x="565.90" y="146.80" width="19.0" height="1.2" fill="#36373d" opacity="0.09"/><rect x="566.50" y="95.50" width="17.8" height="3.2" rx="0.6" fill="#36373d" opacity="0.78"/><rect x="565.90" y="151.50" width="19.0" height="2.0" rx="0.5" fill="#36373d" opacity="0.04"/><rect x="565.90" y="153.80" width="19.0" height="1.8" fill="#36373d" opacity="0.01"/><rect x="589.55" y="103.60" width="15.7" height="5.0" rx="0.8" fill="#36373d" opacity="0.78"/><rect x="589.15" y="83.35" width="16.5" height="1.1" fill="#36373d" opacity="0.15"/><rect x="589.15" y="88.55" width="16.5" height="1.1" fill="#36373d" opacity="0.15"/><rect x="589.15" y="119.05" width="16.5" height="1.3" fill="#36373d" opacity="0.24"/><rect x="589.15" y="138.60" width="16.5" height="1.2" fill="#36373d" opacity="0.07"/><rect x="589.15" y="141.20" width="16.5" height="1.2" fill="#36373d" opacity="0.06"/><rect x="589.15" y="143.80" width="16.5" height="1.2" fill="#36373d" opacity="0.06"/><rect x="589.15" y="146.80" width="16.5" height="1.2" fill="#36373d" opacity="0.09"/><rect x="589.75" y="96.10" width="15.3" height="2.4" rx="0.6" fill="#36373d" opacity="0.78"/><rect x="589.15" y="151.50" width="16.5" height="2.0" rx="0.5" fill="#36373d" opacity="0.06"/><rect x="589.15" y="153.80" width="16.5" height="1.8" fill="#36373d" opacity="0.01"/><rect x="609.75" y="103.40" width="14.299999999999999" height="5.0" rx="0.8" fill="#36373d" opacity="0.78"/><rect x="609.35" y="83.15" width="15.1" height="1.1" fill="#36373d" opacity="0.15"/><rect x="609.35" y="88.35" width="15.1" height="1.1" fill="#36373d" opacity="0.15"/><rect x="609.35" y="118.85" width="15.1" height="1.3" fill="#36373d" opacity="0.24"/><rect x="609.35" y="138.60" width="15.1" height="1.2" fill="#36373d" opacity="0.07"/><rect x="609.35" y="141.20" width="15.1" height="1.2" fill="#36373d" opacity="0.06"/><rect x="609.35" y="143.80" width="15.1" height="1.2" fill="#36373d" opacity="0.06"/><rect x="609.35" y="146.80" width="15.1" height="1.2" fill="#36373d" opacity="0.09"/><rect x="609.95" y="95.20" width="13.9" height="3.4" rx="0.6" fill="#36373d" opacity="0.78"/><rect x="609.35" y="151.20" width="15.1" height="2.0" rx="0.5" fill="#36373d" opacity="0.3"/><rect x="609.35" y="153.50" width="15.1" height="1.8" fill="#36373d" opacity="0.06"/><rect x="628.75" y="102.90" width="14.299999999999999" height="5.0" rx="0.8" fill="#36373d" opacity="0.78"/><rect x="628.35" y="82.65" width="15.1" height="1.1" fill="#36373d" opacity="0.15"/><rect x="628.35" y="87.85" width="15.1" height="1.1" fill="#36373d" opacity="0.15"/><rect x="628.35" y="118.35" width="15.1" height="1.3" fill="#36373d" opacity="0.24"/><rect x="628.35" y="138.60" width="15.1" height="1.2" fill="#36373d" opacity="0.07"/><rect x="628.35" y="141.20" width="15.1" height="1.2" fill="#36373d" opacity="0.06"/><rect x="628.35" y="143.80" width="15.1" height="1.2" fill="#36373d" opacity="0.06"/><rect x="628.35" y="146.80" width="15.1" height="1.2" fill="#36373d" opacity="0.09"/><rect x="628.95" y="94.10" width="13.9" height="3.4" rx="0.6" fill="#36373d" opacity="0.78"/><rect x="628.35" y="150.50" width="15.1" height="2.0" rx="0.5" fill="#36373d" opacity="0.55"/><rect x="628.35" y="152.80" width="15.1" height="1.8" fill="#36373d" opacity="0.11"/></g>
<path d="M648.4 95.2L653.8 92.7L653.0 95.2L653.8 97.7Z" fill="#1e1e1e"/>
<line x1="652.50" y1="95.20" x2="656.40" y2="95.20" stroke="#1e1e1e" stroke-width="1.1"/>
<text x="661.20" y="98.40" font-size="8.4" text-anchor="start" fill="#3a3a3a" font-weight="normal" textLength="20.30" lengthAdjust="spacingAndGlyphs">NUB1</text>
<path d="M648.4 105.1L653.8 102.6L653.0 105.1L653.8 107.6Z" fill="#1e1e1e"/>
<line x1="652.50" y1="105.10" x2="656.40" y2="105.10" stroke="#1e1e1e" stroke-width="1.1"/>
<text x="661.20" y="108.30" font-size="8.4" text-anchor="start" fill="#3a3a3a" font-weight="normal" textLength="15.90" lengthAdjust="spacingAndGlyphs">BSA</text>
<path d="M648.4 151.1L653.8 148.6L653.0 151.1L653.8 153.6Z" fill="#1e1e1e"/>
<line x1="652.50" y1="151.10" x2="656.40" y2="151.10" stroke="#1e1e1e" stroke-width="1.1"/>
<text x="661.20" y="154.30" font-size="8.4" text-anchor="start" fill="#3a3a3a" font-weight="normal" textLength="24.20" lengthAdjust="spacingAndGlyphs">FAT10</text>
<text x="-0.50" y="250.60" font-size="11.5" text-anchor="start" fill="#141414" font-weight="bold" textLength="7.73" lengthAdjust="spacingAndGlyphs">d</text>
<line x1="42.60" y1="268.20" x2="42.60" y2="374.60" stroke="#6a6a6a" stroke-width="0.8"/>
<line x1="39.00" y1="374.60" x2="42.60" y2="374.60" stroke="#6a6a6a" stroke-width="0.8"/>
<text x="34.90" y="377.05" font-size="6.9" text-anchor="end" fill="#3a3a3a" font-weight="normal" textLength="4.28" lengthAdjust="spacingAndGlyphs">0</text>
<line x1="39.00" y1="339.10" x2="42.60" y2="339.10" stroke="#6a6a6a" stroke-width="0.8"/>
<text x="34.90" y="341.55" font-size="6.9" text-anchor="end" fill="#3a3a3a" font-weight="normal" textLength="8.56" lengthAdjust="spacingAndGlyphs">50</text>
<line x1="39.00" y1="303.60" x2="42.60" y2="303.60" stroke="#6a6a6a" stroke-width="0.8"/>
<text x="34.90" y="306.05" font-size="6.9" text-anchor="end" fill="#3a3a3a" font-weight="normal" textLength="12.01" lengthAdjust="spacingAndGlyphs">100</text>
<line x1="39.00" y1="268.10" x2="42.60" y2="268.10" stroke="#6a6a6a" stroke-width="0.8"/>
<text x="34.90" y="270.55" font-size="6.9" text-anchor="end" fill="#3a3a3a" font-weight="normal" textLength="12.01" lengthAdjust="spacingAndGlyphs">150</text>
<line x1="39.60" y1="374.60" x2="125.80" y2="374.60" stroke="#6a6a6a" stroke-width="0.8"/>
<text x="16.10" y="322.80" font-size="8.8" text-anchor="middle" fill="#3a3a3a" font-weight="normal" transform="rotate(-90 16.10 322.80)" textLength="112.30" lengthAdjust="spacingAndGlyphs">Relative degrdation rate (%)</text>
<rect x="48.10" y="374.39" width="9.80" height="0.21" fill="#7aa2d5" stroke="#3d4f6e" stroke-width="0.8"/>
<rect x="63.83" y="304.31" width="9.80" height="70.29" fill="#7aa2d5" stroke="#3d4f6e" stroke-width="0.8"/>
<rect x="79.56" y="302.32" width="9.80" height="72.28" fill="#7aa2d5" stroke="#3d4f6e" stroke-width="0.8"/>
<rect x="95.29" y="357.92" width="9.80" height="16.69" fill="#7aa2d5" stroke="#3d4f6e" stroke-width="0.8"/>
<rect x="111.02" y="357.99" width="9.80" height="16.61" fill="#7aa2d5" stroke="#3d4f6e" stroke-width="0.8"/>
<line x1="53.00" y1="373.32" x2="53.00" y2="375.45" stroke="#222" stroke-width="0.55"/>
<line x1="51.20" y1="373.32" x2="54.80" y2="373.32" stroke="#222" stroke-width="0.55"/>
<rect x="48.50" y="373.02" width="3.80" height="3.80" fill="#7aa2d5" stroke="#2d3f5c" stroke-width="0.55"/>
<rect x="51.10" y="372.27" width="3.80" height="3.80" fill="#7aa2d5" stroke="#2d3f5c" stroke-width="0.55"/>
<rect x="53.70" y="371.85" width="3.80" height="3.80" fill="#7aa2d5" stroke="#2d3f5c" stroke-width="0.55"/>
<line x1="68.73" y1="303.60" x2="68.73" y2="305.02" stroke="#222" stroke-width="0.55"/>
<line x1="66.93" y1="303.60" x2="70.53" y2="303.60" stroke="#222" stroke-width="0.55"/>
<path d="M66.13 302.39L68.22 306.19L64.04 306.19Z" fill="#7aa2d5" stroke="#2d3f5c" stroke-width="0.55"/>
<path d="M68.73 301.89L70.82 305.69L66.64 305.69Z" fill="#7aa2d5" stroke="#2d3f5c" stroke-width="0.55"/>
<path d="M71.33 301.60L73.42 305.40L69.24 305.40Z" fill="#7aa2d5" stroke="#2d3f5c" stroke-width="0.55"/>
<line x1="84.46" y1="300.90" x2="84.46" y2="303.74" stroke="#222" stroke-width="0.55"/>
<line x1="82.66" y1="300.90" x2="86.26" y2="300.90" stroke="#222" stroke-width="0.55"/>
<path d="M81.86 305.31L83.95 301.51L79.77 301.51Z" fill="#7aa2d5" stroke="#2d3f5c" stroke-width="0.55"/>
<path d="M84.46 304.32L86.55 300.52L82.37 300.52Z" fill="#7aa2d5" stroke="#2d3f5c" stroke-width="0.55"/>
<path d="M87.06 303.75L89.15 299.95L84.97 299.95Z" fill="#7aa2d5" stroke="#2d3f5c" stroke-width="0.55"/>
<line x1="100.19" y1="357.21" x2="100.19" y2="358.62" stroke="#222" stroke-width="0.55"/>
<line x1="98.39" y1="357.21" x2="101.99" y2="357.21" stroke="#222" stroke-width="0.55"/>
<path d="M97.59 355.99L99.68 358.27L97.59 360.55L95.50 358.27Z" fill="#7aa2d5" stroke="#2d3f5c" stroke-width="0.55"/>
<path d="M100.19 355.49L102.28 357.77L100.19 360.05L98.10 357.77Z" fill="#7aa2d5" stroke="#2d3f5c" stroke-width="0.55"/>
<path d="M102.79 355.21L104.88 357.49L102.79 359.77L100.70 357.49Z" fill="#7aa2d5" stroke="#2d3f5c" stroke-width="0.55"/>
<line x1="115.92" y1="357.42" x2="115.92" y2="358.55" stroke="#222" stroke-width="0.55"/>
<line x1="114.12" y1="357.42" x2="117.72" y2="357.42" stroke="#222" stroke-width="0.55"/>
<circle cx="113.32" cy="358.27" r="1.90" fill="#7aa2d5" stroke="#2d3f5c" stroke-width="0.55"/>
<circle cx="115.92" cy="357.87" r="1.90" fill="#7aa2d5" stroke="#2d3f5c" stroke-width="0.55"/>
<circle cx="118.52" cy="357.65" r="1.90" fill="#7aa2d5" stroke="#2d3f5c" stroke-width="0.55"/>
<line x1="53.00" y1="374.60" x2="53.00" y2="379.00" stroke="#6a6a6a" stroke-width="0.8"/>
<text x="56.20" y="387.00" font-size="8.3" text-anchor="end" fill="#3a3a3a" font-weight="normal" transform="rotate(-45 56.20 387.00)">No NUB1</text>
<line x1="68.73" y1="374.60" x2="68.73" y2="379.00" stroke="#6a6a6a" stroke-width="0.8"/>
<text x="71.93" y="387.00" font-size="8.3" text-anchor="end" fill="#3a3a3a" font-weight="normal" transform="rotate(-45 71.93 387.00)">WT NUB1</text>
<line x1="84.46" y1="374.60" x2="84.46" y2="379.00" stroke="#6a6a6a" stroke-width="0.8"/>
<text x="87.66" y="387.00" font-size="8.3" text-anchor="end" fill="#3a3a3a" font-weight="normal" transform="rotate(-45 87.66 387.00)">NUB1<tspan dy="-3.2" font-size="5.2">ΔNTD</tspan></text>
<line x1="100.19" y1="374.60" x2="100.19" y2="379.00" stroke="#6a6a6a" stroke-width="0.8"/>
<text x="103.39" y="387.00" font-size="8.3" text-anchor="end" fill="#3a3a3a" font-weight="normal" transform="rotate(-45 103.39 387.00)">NUB1<tspan dy="-3.2" font-size="5.2">ΔUBL</tspan></text>
<line x1="115.92" y1="374.60" x2="115.92" y2="379.00" stroke="#6a6a6a" stroke-width="0.8"/>
<text x="119.12" y="387.00" font-size="8.3" text-anchor="end" fill="#3a3a3a" font-weight="normal" transform="rotate(-45 119.12 387.00)">NUB1<tspan dy="-3.2" font-size="5.2">Δ1–175</tspan></text>
<text x="155.30" y="250.80" font-size="11.5" text-anchor="start" fill="#141414" font-weight="bold" textLength="7.03" lengthAdjust="spacingAndGlyphs">e</text>
<line x1="190.00" y1="269.30" x2="190.00" y2="374.80" stroke="#6a6a6a" stroke-width="0.8"/>
<line x1="186.80" y1="374.80" x2="190.00" y2="374.80" stroke="#6a6a6a" stroke-width="0.8"/>
<text x="182.80" y="377.25" font-size="6.9" text-anchor="end" fill="#3a3a3a" font-weight="normal" textLength="12.01" lengthAdjust="spacingAndGlyphs">140</text>
<line x1="186.80" y1="353.70" x2="190.00" y2="353.70" stroke="#6a6a6a" stroke-width="0.8"/>
<text x="182.80" y="356.15" font-size="6.9" text-anchor="end" fill="#3a3a3a" font-weight="normal" textLength="12.01" lengthAdjust="spacingAndGlyphs">160</text>
<line x1="186.80" y1="332.60" x2="190.00" y2="332.60" stroke="#6a6a6a" stroke-width="0.8"/>
<text x="182.80" y="335.05" font-size="6.9" text-anchor="end" fill="#3a3a3a" font-weight="normal" textLength="12.01" lengthAdjust="spacingAndGlyphs">180</text>
<line x1="186.80" y1="311.50" x2="190.00" y2="311.50" stroke="#6a6a6a" stroke-width="0.8"/>
<text x="182.80" y="313.95" font-size="6.9" text-anchor="end" fill="#3a3a3a" font-weight="normal" textLength="12.83" lengthAdjust="spacingAndGlyphs">200</text>
<line x1="186.80" y1="290.40" x2="190.00" y2="290.40" stroke="#6a6a6a" stroke-width="0.8"/>
<text x="182.80" y="292.85" font-size="6.9" text-anchor="end" fill="#3a3a3a" font-weight="normal" textLength="12.83" lengthAdjust="spacingAndGlyphs">220</text>
<line x1="186.80" y1="269.30" x2="190.00" y2="269.30" stroke="#6a6a6a" stroke-width="0.8"/>
<text x="182.80" y="271.75" font-size="6.9" text-anchor="end" fill="#3a3a3a" font-weight="normal" textLength="12.83" lengthAdjust="spacingAndGlyphs">240</text>
<line x1="190.00" y1="374.80" x2="321.30" y2="374.80" stroke="#6a6a6a" stroke-width="0.8"/>
<line x1="190.00" y1="374.80" x2="190.00" y2="378.30" stroke="#6a6a6a" stroke-width="0.8"/>
<text x="190.00" y="388.30" font-size="6.9" text-anchor="middle" fill="#3a3a3a" font-weight="normal" textLength="4.28" lengthAdjust="spacingAndGlyphs">0</text>
<line x1="222.78" y1="374.80" x2="222.78" y2="378.30" stroke="#6a6a6a" stroke-width="0.8"/>
<text x="222.78" y="388.30" font-size="6.9" text-anchor="middle" fill="#3a3a3a" font-weight="normal" textLength="4.28" lengthAdjust="spacingAndGlyphs">5</text>
<line x1="255.55" y1="374.80" x2="255.55" y2="378.30" stroke="#6a6a6a" stroke-width="0.8"/>
<text x="255.55" y="388.30" font-size="6.9" text-anchor="middle" fill="#3a3a3a" font-weight="normal" textLength="7.73" lengthAdjust="spacingAndGlyphs">10</text>
<line x1="288.32" y1="374.80" x2="288.32" y2="378.30" stroke="#6a6a6a" stroke-width="0.8"/>
<text x="288.32" y="388.30" font-size="6.9" text-anchor="middle" fill="#3a3a3a" font-weight="normal" textLength="7.73" lengthAdjust="spacingAndGlyphs">15</text>
<line x1="321.10" y1="374.80" x2="321.10" y2="378.30" stroke="#6a6a6a" stroke-width="0.8"/>
<text x="321.10" y="388.30" font-size="6.9" text-anchor="middle" fill="#3a3a3a" font-weight="normal" textLength="8.56" lengthAdjust="spacingAndGlyphs">20</text>
<text x="255.50" y="401.60" font-size="8.5" text-anchor="middle" fill="#3a3a3a" font-weight="normal" textLength="41.60" lengthAdjust="spacingAndGlyphs">[NUB1] µM</text>
<text x="162.70" y="322.40" font-size="8.6" text-anchor="middle" fill="#3a3a3a" font-weight="normal" transform="rotate(-90 162.70 322.40)" textLength="67.50" lengthAdjust="spacingAndGlyphs">Polarization (mP)</text>
<path d="M190.00 366.36L190.12 360.21L190.25 355.53L190.37 351.85L190.50 348.88L190.62 346.43L190.75 344.37L190.87 342.62L191.00 341.11L191.12 339.79L191.24 338.63L191.37 337.60L191.49 336.68L191.62 335.86L191.74 335.11L191.87 334.43L191.99 333.81L192.12 333.24L192.24 332.71L192.36 332.23L192.49 331.78L192.61 331.36L192.74 330.96L192.86 330.60L192.99 330.25L193.11 329.93L193.24 329.62L193.36 329.33L193.48 329.06L193.61 328.80L193.73 328.56L193.86 328.32L193.98 328.10L194.11 327.88L194.23 327.68L194.36 327.48L194.48 327.30L194.61 327.12L194.73 326.94L194.85 326.78L194.98 326.61L195.10 326.46L195.23 326.31L195.35 326.17L195.48 326.03L195.60 325.89L195.73 325.76L195.85 325.63L195.97 325.51L196.10 325.39L196.22 325.27L196.35 325.16L196.47 325.05L196.60 324.94L196.72 324.84L196.85 324.73L196.97 324.63L197.09 324.54L197.22 324.44L197.34 324.35L197.47 324.26L197.59 324.17L197.72 324.08L197.84 324.00L197.97 323.91L198.09 323.83L198.21 323.75L198.34 323.67L198.46 323.59L198.59 323.52L198.71 323.44L198.84 323.37L198.96 323.29L199.09 323.22L199.21 323.15L199.33 323.08L199.46 323.02L199.58 322.95L199.71 322.88L199.83 322.82L199.83 322.82L202.94 321.43L206.05 320.31L209.16 319.34L212.27 318.46L215.38 317.64L218.49 316.86L221.60 316.10L224.71 315.37L227.82 314.65L230.93 313.94L234.04 313.24L237.15 312.55L240.25 311.86L243.36 311.18L246.47 310.50L249.58 309.83L252.69 309.16L255.80 308.50L258.91 307.83L262.02 307.17L265.13 306.51L268.24 305.85L271.35 305.19L274.46 304.54L277.57 303.88L280.68 303.23L283.79 302.57L286.90 301.92L290.01 301.27L293.12 300.62L296.22 299.97L299.33 299.32L302.44 298.67L305.55 298.02L308.66 297.37L311.77 296.72L314.88 296.08L317.99 295.43L321.10 294.78" fill="none" stroke="#1e1e1e" stroke-width="0.75"/>
<path d="M190.00 365.31L190.12 359.58L190.25 355.31L190.37 352.02L190.50 349.39L190.62 347.25L190.75 345.47L190.87 343.96L191.00 342.68L191.12 341.56L191.24 340.58L191.37 339.72L191.49 338.95L191.62 338.27L191.74 337.65L191.87 337.09L191.99 336.58L192.12 336.11L192.24 335.68L192.36 335.29L192.49 334.92L192.61 334.58L192.74 334.27L192.86 333.97L192.99 333.69L193.11 333.43L193.24 333.19L193.36 332.96L193.48 332.74L193.61 332.54L193.73 332.34L193.86 332.16L193.98 331.98L194.11 331.82L194.23 331.66L194.36 331.50L194.48 331.36L194.61 331.22L194.73 331.08L194.85 330.96L194.98 330.83L195.10 330.71L195.23 330.60L195.35 330.49L195.48 330.38L195.60 330.28L195.73 330.18L195.85 330.08L195.97 329.99L196.10 329.90L196.22 329.81L196.35 329.73L196.47 329.64L196.60 329.56L196.72 329.49L196.85 329.41L196.97 329.34L197.09 329.26L197.22 329.19L197.34 329.13L197.47 329.06L197.59 328.99L197.72 328.93L197.84 328.87L197.97 328.81L198.09 328.75L198.21 328.69L198.34 328.63L198.46 328.58L198.59 328.52L198.71 328.47L198.84 328.41L198.96 328.36L199.09 328.31L199.21 328.26L199.33 328.21L199.46 328.17L199.58 328.12L199.71 328.07L199.83 328.03L199.83 328.03L202.94 327.07L206.05 326.34L209.16 325.73L212.27 325.19L215.38 324.69L218.49 324.23L221.60 323.79L224.71 323.36L227.82 322.95L230.93 322.54L234.04 322.15L237.15 321.75L240.25 321.37L243.36 320.99L246.47 320.61L249.58 320.23L252.69 319.86L255.80 319.49L258.91 319.12L262.02 318.75L265.13 318.39L268.24 318.02L271.35 317.66L274.46 317.29L277.57 316.93L280.68 316.57L283.79 316.21L286.90 315.85L290.01 315.49L293.12 315.13L296.22 314.78L299.33 314.42L302.44 314.06L305.55 313.70L308.66 313.35L311.77 312.99L314.88 312.63L317.99 312.28L321.10 311.92" fill="none" stroke="#e8488a" stroke-width="0.75"/>
<circle cx="190.90" cy="366.50" r="2.5" fill="#e8488a"/>
<circle cx="190.90" cy="363.00" r="2.5" fill="#e8488a"/>
<circle cx="191.00" cy="358.70" r="2.5" fill="#e8488a"/>
<circle cx="191.50" cy="346.30" r="2.5" fill="#e8488a"/>
<circle cx="192.00" cy="335.60" r="2.5" fill="#e8488a"/>
<circle cx="194.80" cy="329.40" r="2.5" fill="#e8488a"/>
<circle cx="198.60" cy="326.70" r="2.5" fill="#e8488a"/>
<circle cx="206.50" cy="325.80" r="2.5" fill="#e8488a"/>
<circle cx="222.90" cy="324.80" r="2.5" fill="#e8488a"/>
<circle cx="255.50" cy="321.00" r="2.5" fill="#e8488a"/>
<circle cx="321.00" cy="310.60" r="2.5" fill="#e8488a"/>
<circle cx="190.90" cy="367.50" r="2.5" fill="#1a1a1a"/>
<circle cx="190.90" cy="364.50" r="2.5" fill="#1a1a1a"/>
<circle cx="191.00" cy="361.50" r="2.5" fill="#1a1a1a"/>
<circle cx="191.10" cy="359.00" r="2.5" fill="#1a1a1a"/>
<circle cx="191.50" cy="353.40" r="2.5" fill="#1a1a1a"/>
<circle cx="191.80" cy="344.10" r="2.5" fill="#1a1a1a"/>
<circle cx="192.60" cy="331.70" r="2.5" fill="#1a1a1a"/>
<circle cx="194.50" cy="325.30" r="2.5" fill="#1a1a1a"/>
<circle cx="198.40" cy="321.70" r="2.5" fill="#1a1a1a"/>
<circle cx="206.50" cy="319.90" r="2.5" fill="#1a1a1a"/>
<circle cx="222.90" cy="315.40" r="2.5" fill="#1a1a1a"/>
<circle cx="255.50" cy="309.10" r="2.5" fill="#1a1a1a"/>
<circle cx="320.80" cy="293.90" r="2.5" fill="#1a1a1a"/>
<line x1="209.20" y1="285.40" x2="221.10" y2="285.40" stroke="#222" stroke-width="0.8"/>
<circle cx="215.4" cy="285.4" r="2.5" fill="#1a1a1a"/>
<text x="227.30" y="288.20" font-size="7.0" text-anchor="start" fill="#3a3a3a" font-weight="normal" textLength="29.40" lengthAdjust="spacingAndGlyphs">WT NUB1</text>
<line x1="209.20" y1="341.70" x2="221.10" y2="341.70" stroke="#e8488a" stroke-width="0.8"/>
<circle cx="215.4" cy="341.7" r="2.5" fill="#e8488a"/>
<text x="225.50" y="344.30" font-size="7.0" text-anchor="start" fill="#3a3a3a" font-weight="normal" textLength="17.60" lengthAdjust="spacingAndGlyphs">NUB1</text>
<text x="243.30" y="340.60" font-size="4.6" text-anchor="start" fill="#3a3a3a" font-weight="normal" textLength="15.20" lengthAdjust="spacingAndGlyphs">Δ1–175</text>
<text x="225.60" y="353.20" font-size="7.0" text-anchor="start" fill="#3a3a3a" font-weight="normal"><tspan font-style="italic">K</tspan></text>
<text x="230.60" y="354.90" font-size="4.8" text-anchor="start" fill="#3a3a3a" font-weight="normal">d</text>
<text x="234.20" y="353.20" font-size="7.0" text-anchor="start" fill="#3a3a3a" font-weight="normal" textLength="52.20" lengthAdjust="spacingAndGlyphs">= 151.9 ± 1.6 nM</text>
<text x="337.60" y="251.00" font-size="11.5" text-anchor="start" fill="#141414" font-weight="bold" textLength="4.21" lengthAdjust="spacingAndGlyphs">f</text>
<line x1="380.70" y1="266.60" x2="380.70" y2="375.30" stroke="#6a6a6a" stroke-width="0.8"/>
<line x1="377.00" y1="375.30" x2="380.70" y2="375.30" stroke="#6a6a6a" stroke-width="0.8"/>
<text x="372.00" y="377.75" font-size="6.9" text-anchor="end" fill="#3a3a3a" font-weight="normal" textLength="4.28" lengthAdjust="spacingAndGlyphs">0</text>
<line x1="377.00" y1="353.60" x2="380.70" y2="353.60" stroke="#6a6a6a" stroke-width="0.8"/>
<text x="372.00" y="356.05" font-size="6.9" text-anchor="end" fill="#3a3a3a" font-weight="normal" textLength="10.63" lengthAdjust="spacingAndGlyphs">0.5</text>
<line x1="377.00" y1="331.90" x2="380.70" y2="331.90" stroke="#6a6a6a" stroke-width="0.8"/>
<text x="372.00" y="334.35" font-size="6.9" text-anchor="end" fill="#3a3a3a" font-weight="normal" textLength="9.80" lengthAdjust="spacingAndGlyphs">1.0</text>
<line x1="377.00" y1="310.20" x2="380.70" y2="310.20" stroke="#6a6a6a" stroke-width="0.8"/>
<text x="372.00" y="312.65" font-size="6.9" text-anchor="end" fill="#3a3a3a" font-weight="normal" textLength="9.80" lengthAdjust="spacingAndGlyphs">1.5</text>
<line x1="377.00" y1="288.50" x2="380.70" y2="288.50" stroke="#6a6a6a" stroke-width="0.8"/>
<text x="372.00" y="290.95" font-size="6.9" text-anchor="end" fill="#3a3a3a" font-weight="normal" textLength="10.63" lengthAdjust="spacingAndGlyphs">2.0</text>
<line x1="377.00" y1="266.80" x2="380.70" y2="266.80" stroke="#6a6a6a" stroke-width="0.8"/>
<text x="372.00" y="269.25" font-size="6.9" text-anchor="end" fill="#3a3a3a" font-weight="normal" textLength="10.63" lengthAdjust="spacingAndGlyphs">2.5</text>
<line x1="376.50" y1="375.30" x2="454.60" y2="375.30" stroke="#6a6a6a" stroke-width="0.8"/>
<text x="344.80" y="321.00" font-size="8.7" text-anchor="middle" fill="#3a3a3a" font-weight="normal" transform="rotate(-90 344.80 321.00)" textLength="31.40" lengthAdjust="spacingAndGlyphs">Relative</text>
<text x="353.50" y="320.40" font-size="8.7" text-anchor="middle" fill="#3a3a3a" font-weight="normal" transform="rotate(-90 353.50 320.40)" textLength="68.30" lengthAdjust="spacingAndGlyphs">peptidase activity</text>
<rect x="385.20" y="330.16" width="8.60" height="45.14" fill="#7aa2d5" stroke="#3d4f6e" stroke-width="0.8"/>
<rect x="399.27" y="329.51" width="8.60" height="45.79" fill="#7aa2d5" stroke="#3d4f6e" stroke-width="0.8"/>
<rect x="413.34" y="330.81" width="8.60" height="44.49" fill="#7aa2d5" stroke="#3d4f6e" stroke-width="0.8"/>
<rect x="427.41" y="304.38" width="8.60" height="70.92" fill="#7aa2d5" stroke="#3d4f6e" stroke-width="0.8"/>
<rect x="441.48" y="293.10" width="8.60" height="82.20" fill="#7aa2d5" stroke="#3d4f6e" stroke-width="0.8"/>
<line x1="389.50" y1="327.99" x2="389.50" y2="332.33" stroke="#222" stroke-width="0.55"/>
<line x1="387.70" y1="327.99" x2="391.30" y2="327.99" stroke="#222" stroke-width="0.55"/>
<circle cx="386.90" cy="331.25" r="1.90" fill="#7aa2d5" stroke="#2d3f5c" stroke-width="0.55"/>
<circle cx="389.50" cy="329.73" r="1.90" fill="#7aa2d5" stroke="#2d3f5c" stroke-width="0.55"/>
<circle cx="392.10" cy="328.86" r="1.90" fill="#7aa2d5" stroke="#2d3f5c" stroke-width="0.55"/>
<line x1="403.57" y1="326.91" x2="403.57" y2="332.12" stroke="#222" stroke-width="0.55"/>
<line x1="401.77" y1="326.91" x2="405.37" y2="326.91" stroke="#222" stroke-width="0.55"/>
<rect x="399.07" y="328.92" width="3.80" height="3.80" fill="#7aa2d5" stroke="#2d3f5c" stroke-width="0.55"/>
<rect x="401.67" y="327.09" width="3.80" height="3.80" fill="#7aa2d5" stroke="#2d3f5c" stroke-width="0.55"/>
<rect x="404.27" y="326.05" width="3.80" height="3.80" fill="#7aa2d5" stroke="#2d3f5c" stroke-width="0.55"/>
<line x1="417.64" y1="329.08" x2="417.64" y2="332.55" stroke="#222" stroke-width="0.55"/>
<line x1="415.84" y1="329.08" x2="419.44" y2="329.08" stroke="#222" stroke-width="0.55"/>
<path d="M415.04 329.40L417.13 333.20L412.95 333.20Z" fill="#7aa2d5" stroke="#2d3f5c" stroke-width="0.55"/>
<path d="M417.64 328.19L419.73 331.99L415.55 331.99Z" fill="#7aa2d5" stroke="#2d3f5c" stroke-width="0.55"/>
<path d="M420.24 327.49L422.33 331.29L418.15 331.29Z" fill="#7aa2d5" stroke="#2d3f5c" stroke-width="0.55"/>
<line x1="431.71" y1="303.52" x2="431.71" y2="305.25" stroke="#222" stroke-width="0.55"/>
<line x1="429.91" y1="303.52" x2="433.51" y2="303.52" stroke="#222" stroke-width="0.55"/>
<path d="M429.11 302.54L431.20 306.34L427.02 306.34Z" fill="#7aa2d5" stroke="#2d3f5c" stroke-width="0.55"/>
<path d="M431.71 301.93L433.80 305.73L429.62 305.73Z" fill="#7aa2d5" stroke="#2d3f5c" stroke-width="0.55"/>
<path d="M434.31 301.58L436.40 305.38L432.22 305.38Z" fill="#7aa2d5" stroke="#2d3f5c" stroke-width="0.55"/>
<line x1="445.78" y1="290.50" x2="445.78" y2="295.70" stroke="#222" stroke-width="0.55"/>
<line x1="443.98" y1="290.50" x2="447.58" y2="290.50" stroke="#222" stroke-width="0.55"/>
<path d="M443.18 292.12L445.27 294.40L443.18 296.68L441.09 294.40Z" fill="#7aa2d5" stroke="#2d3f5c" stroke-width="0.55"/>
<path d="M445.78 290.30L447.87 292.58L445.78 294.86L443.69 292.58Z" fill="#7aa2d5" stroke="#2d3f5c" stroke-width="0.55"/>
<path d="M448.38 289.26L450.47 291.54L448.38 293.82L446.29 291.54Z" fill="#7aa2d5" stroke="#2d3f5c" stroke-width="0.55"/>
<line x1="389.50" y1="375.30" x2="389.50" y2="380.00" stroke="#6a6a6a" stroke-width="0.8"/>
<text x="392.50" y="386.50" font-size="8.2" text-anchor="end" fill="#3a3a3a" font-weight="normal" transform="rotate(-45 392.50 386.50)"><tspan font-style="italic">hs</tspan>26S</text>
<line x1="403.57" y1="375.30" x2="403.57" y2="380.00" stroke="#6a6a6a" stroke-width="0.8"/>
<text x="406.57" y="386.50" font-size="8.2" text-anchor="end" fill="#3a3a3a" font-weight="normal" transform="rotate(-45 406.57 386.50)"><tspan font-style="italic">hs</tspan>26S + NUB1</text>
<line x1="417.64" y1="375.30" x2="417.64" y2="380.00" stroke="#6a6a6a" stroke-width="0.8"/>
<text x="420.64" y="386.50" font-size="8.2" text-anchor="end" fill="#3a3a3a" font-weight="normal" transform="rotate(-45 420.64 386.50)"><tspan font-style="italic">hs</tspan>26S + FAT10</text>
<line x1="431.71" y1="375.30" x2="431.71" y2="380.00" stroke="#6a6a6a" stroke-width="0.8"/>
<text x="434.71" y="386.50" font-size="8.2" text-anchor="end" fill="#3a3a3a" font-weight="normal" transform="rotate(-45 434.71 386.50)"><tspan font-style="italic">hs</tspan>26S + FAT10 + NUB1</text>
<line x1="445.78" y1="375.30" x2="445.78" y2="380.00" stroke="#6a6a6a" stroke-width="0.8"/>
<text x="448.78" y="386.50" font-size="8.2" text-anchor="end" fill="#3a3a3a" font-weight="normal" transform="rotate(-45 448.78 386.50)"><tspan font-style="italic">hs</tspan>26S + ATPγS</text>
<text x="465.30" y="250.50" font-size="11.5" text-anchor="start" fill="#141414" font-weight="bold" textLength="7.73" lengthAdjust="spacingAndGlyphs">g</text>
<line x1="503.40" y1="256.50" x2="503.40" y2="361.80" stroke="#6a6a6a" stroke-width="0.8"/>
<line x1="499.60" y1="361.80" x2="503.40" y2="361.80" stroke="#6a6a6a" stroke-width="0.8"/>
<text x="495.20" y="364.25" font-size="6.9" text-anchor="end" fill="#3a3a3a" font-weight="normal" textLength="4.28" lengthAdjust="spacingAndGlyphs">0</text>
<line x1="499.60" y1="326.70" x2="503.40" y2="326.70" stroke="#6a6a6a" stroke-width="0.8"/>
<text x="495.20" y="329.15" font-size="6.9" text-anchor="end" fill="#3a3a3a" font-weight="normal" textLength="4.28" lengthAdjust="spacingAndGlyphs">2</text>
<line x1="499.60" y1="291.60" x2="503.40" y2="291.60" stroke="#6a6a6a" stroke-width="0.8"/>
<text x="495.20" y="294.05" font-size="6.9" text-anchor="end" fill="#3a3a3a" font-weight="normal" textLength="4.28" lengthAdjust="spacingAndGlyphs">4</text>
<line x1="499.60" y1="256.50" x2="503.40" y2="256.50" stroke="#6a6a6a" stroke-width="0.8"/>
<text x="495.20" y="258.95" font-size="6.9" text-anchor="end" fill="#3a3a3a" font-weight="normal" textLength="4.28" lengthAdjust="spacingAndGlyphs">6</text>
<line x1="503.40" y1="361.80" x2="663.80" y2="361.80" stroke="#6a6a6a" stroke-width="0.8"/>
<line x1="503.60" y1="361.80" x2="503.60" y2="365.30" stroke="#6a6a6a" stroke-width="0.8"/>
<text x="503.60" y="375.40" font-size="7.0" text-anchor="middle" fill="#3a3a3a" font-weight="normal" textLength="4.34" lengthAdjust="spacingAndGlyphs">0</text>
<line x1="530.25" y1="361.80" x2="530.25" y2="365.30" stroke="#6a6a6a" stroke-width="0.8"/>
<text x="530.25" y="375.40" font-size="7.0" text-anchor="middle" fill="#3a3a3a" font-weight="normal" textLength="13.02" lengthAdjust="spacingAndGlyphs">300</text>
<line x1="556.90" y1="361.80" x2="556.90" y2="365.30" stroke="#6a6a6a" stroke-width="0.8"/>
<text x="556.90" y="375.40" font-size="7.0" text-anchor="middle" fill="#3a3a3a" font-weight="normal" textLength="13.02" lengthAdjust="spacingAndGlyphs">600</text>
<line x1="583.55" y1="361.80" x2="583.55" y2="365.30" stroke="#6a6a6a" stroke-width="0.8"/>
<text x="583.55" y="375.40" font-size="7.0" text-anchor="middle" fill="#3a3a3a" font-weight="normal" textLength="13.02" lengthAdjust="spacingAndGlyphs">900</text>
<line x1="610.20" y1="361.80" x2="610.20" y2="365.30" stroke="#6a6a6a" stroke-width="0.8"/>
<text x="610.20" y="375.40" font-size="7.0" text-anchor="middle" fill="#3a3a3a" font-weight="normal" textLength="18.62" lengthAdjust="spacingAndGlyphs">1,200</text>
<line x1="636.85" y1="361.80" x2="636.85" y2="365.30" stroke="#6a6a6a" stroke-width="0.8"/>
<text x="636.85" y="375.40" font-size="7.0" text-anchor="middle" fill="#3a3a3a" font-weight="normal" textLength="18.62" lengthAdjust="spacingAndGlyphs">1,500</text>
<line x1="663.49" y1="361.80" x2="663.49" y2="365.30" stroke="#6a6a6a" stroke-width="0.8"/>
<text x="663.49" y="375.40" font-size="7.0" text-anchor="middle" fill="#3a3a3a" font-weight="normal" textLength="18.62" lengthAdjust="spacingAndGlyphs">1,800</text>
<text x="583.50" y="387.80" font-size="8.6" text-anchor="middle" fill="#3a3a3a" font-weight="normal" textLength="31.50" lengthAdjust="spacingAndGlyphs">Time (s)</text>
<text x="474.60" y="307.70" font-size="8.6" text-anchor="middle" fill="#3a3a3a" font-weight="normal" transform="rotate(-90 474.60 307.70)" textLength="71.30" lengthAdjust="spacingAndGlyphs">NADH absorbance</text>
<text x="482.60" y="303.60" font-size="8.6" text-anchor="middle" fill="#3a3a3a" font-weight="normal" transform="rotate(-90 482.60 303.60)" textLength="36.20" lengthAdjust="spacingAndGlyphs">(340 nm)</text>
<path d="M503.60 277.96V281.59M502.70 277.96h1.8M502.70 281.59h1.8M506.26 277.81V281.61M505.36 277.81h1.8M505.36 281.61h1.8M508.93 278.28V280.57M508.03 278.28h1.8M508.03 280.57h1.8M511.59 278.43V282.89M510.69 278.43h1.8M510.69 282.89h1.8M514.26 279.01V281.77M513.36 279.01h1.8M513.36 281.77h1.8M516.92 277.55V280.98M516.02 277.55h1.8M516.02 280.98h1.8M519.59 277.99V281.43M518.69 277.99h1.8M518.69 281.43h1.8M522.25 278.95V281.48M521.35 278.95h1.8M521.35 281.48h1.8M524.92 278.12V282.66M524.02 278.12h1.8M524.02 282.66h1.8M527.58 278.65V282.84M526.68 278.65h1.8M526.68 282.84h1.8M530.25 279.51V281.80M529.35 279.51h1.8M529.35 281.80h1.8M532.91 278.78V282.55M532.01 278.78h1.8M532.01 282.55h1.8M535.58 280.53V282.73M534.68 280.53h1.8M534.68 282.73h1.8M538.24 279.09V282.52M537.34 279.09h1.8M537.34 282.52h1.8M540.91 278.94V283.51M540.01 278.94h1.8M540.01 283.51h1.8M543.57 279.05V283.74M542.67 279.05h1.8M542.67 283.74h1.8M546.24 279.94V284.30M545.34 279.94h1.8M545.34 284.30h1.8M548.90 279.83V284.56M548.00 279.83h1.8M548.00 284.56h1.8M551.57 280.41V282.79M550.67 280.41h1.8M550.67 282.79h1.8M554.23 281.71V284.42M553.33 281.71h1.8M553.33 284.42h1.8M556.90 280.11V283.44M556.00 280.11h1.8M556.00 283.44h1.8M559.56 281.06V284.01M558.66 281.06h1.8M558.66 284.01h1.8M562.23 281.31V284.50M561.33 281.31h1.8M561.33 284.50h1.8M564.89 281.47V285.22M563.99 281.47h1.8M563.99 285.22h1.8M567.56 280.78V285.42M566.66 280.78h1.8M566.66 285.42h1.8M570.22 280.73V285.45M569.32 280.73h1.8M569.32 285.45h1.8M572.89 280.50V285.39M571.99 280.50h1.8M571.99 285.39h1.8M575.55 282.16V284.72M574.65 282.16h1.8M574.65 284.72h1.8M578.22 280.86V285.68M577.32 280.86h1.8M577.32 285.68h1.8M580.88 281.50V285.21M579.98 281.50h1.8M579.98 285.21h1.8M583.55 282.50V285.20M582.65 282.50h1.8M582.65 285.20h1.8M586.21 281.87V285.59M585.31 281.87h1.8M585.31 285.59h1.8M588.88 283.63V285.91M587.98 283.63h1.8M587.98 285.91h1.8M591.54 281.41V286.30M590.64 281.41h1.8M590.64 286.30h1.8M594.21 283.10V287.46M593.31 283.10h1.8M593.31 287.46h1.8M596.87 283.53V286.06M595.97 283.53h1.8M595.97 286.06h1.8M599.54 282.95V287.21M598.64 282.95h1.8M598.64 287.21h1.8M602.20 283.03V285.26M601.30 283.03h1.8M601.30 285.26h1.8M604.87 283.57V285.80M603.97 283.57h1.8M603.97 285.80h1.8M607.53 283.07V286.10M606.63 283.07h1.8M606.63 286.10h1.8M610.20 281.95V286.81M609.30 281.95h1.8M609.30 286.81h1.8M612.86 282.67V287.58M611.96 282.67h1.8M611.96 287.58h1.8M615.53 284.38V286.71M614.63 284.38h1.8M614.63 286.71h1.8M618.19 284.02V286.22M617.29 284.02h1.8M617.29 286.22h1.8M620.86 284.28V287.53M619.96 284.28h1.8M619.96 287.53h1.8M623.52 283.99V286.54M622.62 283.99h1.8M622.62 286.54h1.8M626.19 284.07V288.61M625.29 284.07h1.8M625.29 288.61h1.8M628.85 283.55V288.35M627.95 283.55h1.8M627.95 288.35h1.8M631.52 283.42V286.59M630.62 283.42h1.8M630.62 286.59h1.8M634.18 284.07V287.64M633.28 284.07h1.8M633.28 287.64h1.8M636.85 283.73V287.50M635.95 283.73h1.8M635.95 287.50h1.8M639.51 283.92V287.77M638.61 283.92h1.8M638.61 287.77h1.8M642.17 283.49V287.02M641.27 283.49h1.8M641.27 287.02h1.8M644.84 284.17V288.30M643.94 284.17h1.8M643.94 288.30h1.8M647.50 285.18V288.13M646.60 285.18h1.8M646.60 288.13h1.8M650.17 283.65V287.22M649.27 283.65h1.8M649.27 287.22h1.8M652.83 285.20V287.34M651.93 285.20h1.8M651.93 287.34h1.8M655.50 284.72V288.46M654.60 284.72h1.8M654.60 288.46h1.8M658.16 285.45V289.28M657.26 285.45h1.8M657.26 289.28h1.8M660.83 285.23V287.51M659.93 285.23h1.8M659.93 287.51h1.8M663.49 284.75V288.17M662.59 284.75h1.8M662.59 288.17h1.8" stroke="#9a86c8" stroke-width="0.4" fill="none"/>
<g fill="none" stroke="#9a86c8" stroke-width="0.55"><circle cx="503.60" cy="279.77" r="1.45"/><circle cx="506.26" cy="279.71" r="1.45"/><circle cx="508.93" cy="279.42" r="1.45"/><circle cx="511.59" cy="280.66" r="1.45"/><circle cx="514.26" cy="280.39" r="1.45"/><circle cx="516.92" cy="279.26" r="1.45"/><circle cx="519.59" cy="279.71" r="1.45"/><circle cx="522.25" cy="280.22" r="1.45"/><circle cx="524.92" cy="280.39" r="1.45"/><circle cx="527.58" cy="280.75" r="1.45"/><circle cx="530.25" cy="280.65" r="1.45"/><circle cx="532.91" cy="280.66" r="1.45"/><circle cx="535.58" cy="281.63" r="1.45"/><circle cx="538.24" cy="280.80" r="1.45"/><circle cx="540.91" cy="281.22" r="1.45"/><circle cx="543.57" cy="281.40" r="1.45"/><circle cx="546.24" cy="282.12" r="1.45"/><circle cx="548.90" cy="282.20" r="1.45"/><circle cx="551.57" cy="281.60" r="1.45"/><circle cx="554.23" cy="283.07" r="1.45"/><circle cx="556.90" cy="281.77" r="1.45"/><circle cx="559.56" cy="282.53" r="1.45"/><circle cx="562.23" cy="282.91" r="1.45"/><circle cx="564.89" cy="283.34" r="1.45"/><circle cx="567.56" cy="283.10" r="1.45"/><circle cx="570.22" cy="283.09" r="1.45"/><circle cx="572.89" cy="282.95" r="1.45"/><circle cx="575.55" cy="283.44" r="1.45"/><circle cx="578.22" cy="283.27" r="1.45"/><circle cx="580.88" cy="283.35" r="1.45"/><circle cx="583.55" cy="283.85" r="1.45"/><circle cx="586.21" cy="283.73" r="1.45"/><circle cx="588.88" cy="284.77" r="1.45"/><circle cx="591.54" cy="283.85" r="1.45"/><circle cx="594.21" cy="285.28" r="1.45"/><circle cx="596.87" cy="284.80" r="1.45"/><circle cx="599.54" cy="285.08" r="1.45"/><circle cx="602.20" cy="284.15" r="1.45"/><circle cx="604.87" cy="284.68" r="1.45"/><circle cx="607.53" cy="284.58" r="1.45"/><circle cx="610.20" cy="284.38" r="1.45"/><circle cx="612.86" cy="285.12" r="1.45"/><circle cx="615.53" cy="285.55" r="1.45"/><circle cx="618.19" cy="285.12" r="1.45"/><circle cx="620.86" cy="285.91" r="1.45"/><circle cx="623.52" cy="285.26" r="1.45"/><circle cx="626.19" cy="286.34" r="1.45"/><circle cx="628.85" cy="285.95" r="1.45"/><circle cx="631.52" cy="285.01" r="1.45"/><circle cx="634.18" cy="285.85" r="1.45"/><circle cx="636.85" cy="285.61" r="1.45"/><circle cx="639.51" cy="285.84" r="1.45"/><circle cx="642.17" cy="285.26" r="1.45"/><circle cx="644.84" cy="286.23" r="1.45"/><circle cx="647.50" cy="286.66" r="1.45"/><circle cx="650.17" cy="285.44" r="1.45"/><circle cx="652.83" cy="286.27" r="1.45"/><circle cx="655.50" cy="286.59" r="1.45"/><circle cx="658.16" cy="287.36" r="1.45"/><circle cx="660.83" cy="286.37" r="1.45"/><circle cx="663.49" cy="286.46" r="1.45"/></g>
<path d="M503.60 277.45V280.55M502.70 277.45h1.8M502.70 280.55h1.8M506.26 277.04V281.22M505.36 277.04h1.8M505.36 281.22h1.8M508.93 279.37V281.64M508.03 279.37h1.8M508.03 281.64h1.8M511.59 277.13V281.94M510.69 277.13h1.8M510.69 281.94h1.8M514.26 278.76V282.15M513.36 278.76h1.8M513.36 282.15h1.8M516.92 278.53V281.53M516.02 278.53h1.8M516.02 281.53h1.8M519.59 279.11V282.10M518.69 279.11h1.8M518.69 282.10h1.8M522.25 278.88V282.66M521.35 278.88h1.8M521.35 282.66h1.8M524.92 279.49V282.65M524.02 279.49h1.8M524.02 282.65h1.8M527.58 279.33V281.51M526.68 279.33h1.8M526.68 281.51h1.8M530.25 278.86V283.03M529.35 278.86h1.8M529.35 283.03h1.8M532.91 280.18V282.91M532.01 280.18h1.8M532.01 282.91h1.8M535.58 279.43V282.21M534.68 279.43h1.8M534.68 282.21h1.8M538.24 280.38V283.70M537.34 280.38h1.8M537.34 283.70h1.8M540.91 280.09V282.48M540.01 280.09h1.8M540.01 282.48h1.8M543.57 280.56V283.61M542.67 280.56h1.8M542.67 283.61h1.8M546.24 279.66V283.00M545.34 279.66h1.8M545.34 283.00h1.8M548.90 280.14V282.72M548.00 280.14h1.8M548.00 282.72h1.8M551.57 280.51V284.45M550.67 280.51h1.8M550.67 284.45h1.8M554.23 279.97V283.34M553.33 279.97h1.8M553.33 283.34h1.8M556.90 281.73V284.18M556.00 281.73h1.8M556.00 284.18h1.8M559.56 281.24V283.88M558.66 281.24h1.8M558.66 283.88h1.8M562.23 279.99V284.45M561.33 279.99h1.8M561.33 284.45h1.8M564.89 282.01V284.89M563.99 282.01h1.8M563.99 284.89h1.8M567.56 280.54V284.45M566.66 280.54h1.8M566.66 284.45h1.8M570.22 281.10V284.18M569.32 281.10h1.8M569.32 284.18h1.8M572.89 282.50V285.43M571.99 282.50h1.8M571.99 285.43h1.8M575.55 281.51V284.37M574.65 281.51h1.8M574.65 284.37h1.8M578.22 282.23V285.51M577.32 282.23h1.8M577.32 285.51h1.8M580.88 282.25V285.51M579.98 282.25h1.8M579.98 285.51h1.8M583.55 281.87V284.41M582.65 281.87h1.8M582.65 284.41h1.8M586.21 282.51V287.27M585.31 282.51h1.8M585.31 287.27h1.8M588.88 281.05V285.93M587.98 281.05h1.8M587.98 285.93h1.8M591.54 282.03V286.80M590.64 282.03h1.8M590.64 286.80h1.8M594.21 282.32V285.05M593.31 282.32h1.8M593.31 285.05h1.8M596.87 281.92V286.38M595.97 281.92h1.8M595.97 286.38h1.8M599.54 282.65V286.22M598.64 282.65h1.8M598.64 286.22h1.8M602.20 283.70V286.76M601.30 283.70h1.8M601.30 286.76h1.8M604.87 284.33V286.63M603.97 284.33h1.8M603.97 286.63h1.8M607.53 283.53V286.44M606.63 283.53h1.8M606.63 286.44h1.8M610.20 283.62V285.85M609.30 283.62h1.8M609.30 285.85h1.8M612.86 282.69V286.74M611.96 282.69h1.8M611.96 286.74h1.8M615.53 282.51V287.13M614.63 282.51h1.8M614.63 287.13h1.8M618.19 283.14V286.86M617.29 283.14h1.8M617.29 286.86h1.8M620.86 284.60V288.80M619.96 284.60h1.8M619.96 288.80h1.8M623.52 285.09V288.03M622.62 285.09h1.8M622.62 288.03h1.8M626.19 284.05V287.63M625.29 284.05h1.8M625.29 287.63h1.8M628.85 284.04V288.79M627.95 284.04h1.8M627.95 288.79h1.8M631.52 284.68V287.74M630.62 284.68h1.8M630.62 287.74h1.8M634.18 284.72V289.24M633.28 284.72h1.8M633.28 289.24h1.8M636.85 284.57V288.88M635.95 284.57h1.8M635.95 288.88h1.8M639.51 285.76V288.42M638.61 285.76h1.8M638.61 288.42h1.8M642.17 284.71V289.11M641.27 284.71h1.8M641.27 289.11h1.8M644.84 285.52V289.85M643.94 285.52h1.8M643.94 289.85h1.8M647.50 284.32V288.69M646.60 284.32h1.8M646.60 288.69h1.8M650.17 285.76V287.88M649.27 285.76h1.8M649.27 287.88h1.8M652.83 285.04V289.57M651.93 285.04h1.8M651.93 289.57h1.8M655.50 287.02V289.89M654.60 287.02h1.8M654.60 289.89h1.8M658.16 286.42V290.01M657.26 286.42h1.8M657.26 290.01h1.8M660.83 286.37V289.80M659.93 286.37h1.8M659.93 289.80h1.8M663.49 286.55V288.66M662.59 286.55h1.8M662.59 288.66h1.8" stroke="#5f46a0" stroke-width="0.4" fill="none"/>
<g fill="none" stroke="#5f46a0" stroke-width="0.55"><circle cx="503.60" cy="279.00" r="1.45"/><circle cx="506.26" cy="279.13" r="1.45"/><circle cx="508.93" cy="280.50" r="1.45"/><circle cx="511.59" cy="279.53" r="1.45"/><circle cx="514.26" cy="280.45" r="1.45"/><circle cx="516.92" cy="280.03" r="1.45"/><circle cx="519.59" cy="280.61" r="1.45"/><circle cx="522.25" cy="280.77" r="1.45"/><circle cx="524.92" cy="281.07" r="1.45"/><circle cx="527.58" cy="280.42" r="1.45"/><circle cx="530.25" cy="280.95" r="1.45"/><circle cx="532.91" cy="281.54" r="1.45"/><circle cx="535.58" cy="280.82" r="1.45"/><circle cx="538.24" cy="282.04" r="1.45"/><circle cx="540.91" cy="281.28" r="1.45"/><circle cx="543.57" cy="282.08" r="1.45"/><circle cx="546.24" cy="281.33" r="1.45"/><circle cx="548.90" cy="281.43" r="1.45"/><circle cx="551.57" cy="282.48" r="1.45"/><circle cx="554.23" cy="281.66" r="1.45"/><circle cx="556.90" cy="282.96" r="1.45"/><circle cx="559.56" cy="282.56" r="1.45"/><circle cx="562.23" cy="282.22" r="1.45"/><circle cx="564.89" cy="283.45" r="1.45"/><circle cx="567.56" cy="282.50" r="1.45"/><circle cx="570.22" cy="282.64" r="1.45"/><circle cx="572.89" cy="283.97" r="1.45"/><circle cx="575.55" cy="282.94" r="1.45"/><circle cx="578.22" cy="283.87" r="1.45"/><circle cx="580.88" cy="283.88" r="1.45"/><circle cx="583.55" cy="283.14" r="1.45"/><circle cx="586.21" cy="284.89" r="1.45"/><circle cx="588.88" cy="283.49" r="1.45"/><circle cx="591.54" cy="284.41" r="1.45"/><circle cx="594.21" cy="283.69" r="1.45"/><circle cx="596.87" cy="284.15" r="1.45"/><circle cx="599.54" cy="284.43" r="1.45"/><circle cx="602.20" cy="285.23" r="1.45"/><circle cx="604.87" cy="285.48" r="1.45"/><circle cx="607.53" cy="284.99" r="1.45"/><circle cx="610.20" cy="284.74" r="1.45"/><circle cx="612.86" cy="284.71" r="1.45"/><circle cx="615.53" cy="284.82" r="1.45"/><circle cx="618.19" cy="285.00" r="1.45"/><circle cx="620.86" cy="286.70" r="1.45"/><circle cx="623.52" cy="286.56" r="1.45"/><circle cx="626.19" cy="285.84" r="1.45"/><circle cx="628.85" cy="286.42" r="1.45"/><circle cx="631.52" cy="286.21" r="1.45"/><circle cx="634.18" cy="286.98" r="1.45"/><circle cx="636.85" cy="286.73" r="1.45"/><circle cx="639.51" cy="287.09" r="1.45"/><circle cx="642.17" cy="286.91" r="1.45"/><circle cx="644.84" cy="287.68" r="1.45"/><circle cx="647.50" cy="286.51" r="1.45"/><circle cx="650.17" cy="286.82" r="1.45"/><circle cx="652.83" cy="287.30" r="1.45"/><circle cx="655.50" cy="288.46" r="1.45"/><circle cx="658.16" cy="288.22" r="1.45"/><circle cx="660.83" cy="288.08" r="1.45"/><circle cx="663.49" cy="287.60" r="1.45"/></g>
<path d="M503.60 277.71V279.68M502.70 277.71h1.8M502.70 279.68h1.8M506.26 277.73V279.57M505.36 277.73h1.8M505.36 279.57h1.8M508.93 275.44V279.04M508.03 275.44h1.8M508.03 279.04h1.8M511.59 277.48V280.29M510.69 277.48h1.8M510.69 280.29h1.8M514.26 277.37V279.76M513.36 277.37h1.8M513.36 279.76h1.8M516.92 277.01V280.15M516.02 277.01h1.8M516.02 280.15h1.8M519.59 277.00V279.50M518.69 277.00h1.8M518.69 279.50h1.8M522.25 277.81V280.24M521.35 277.81h1.8M521.35 280.24h1.8M524.92 277.76V280.69M524.02 277.76h1.8M524.02 280.69h1.8M527.58 277.00V279.54M526.68 277.00h1.8M526.68 279.54h1.8M530.25 278.42V280.51M529.35 278.42h1.8M529.35 280.51h1.8M532.91 277.51V280.56M532.01 277.51h1.8M532.01 280.56h1.8M535.58 277.13V279.67M534.68 277.13h1.8M534.68 279.67h1.8M538.24 276.91V279.99M537.34 276.91h1.8M537.34 279.99h1.8M540.91 277.92V280.44M540.01 277.92h1.8M540.01 280.44h1.8M543.57 277.51V280.78M542.67 277.51h1.8M542.67 280.78h1.8M546.24 277.74V280.98M545.34 277.74h1.8M545.34 280.98h1.8M548.90 278.25V280.49M548.00 278.25h1.8M548.00 280.49h1.8M551.57 277.70V280.95M550.67 277.70h1.8M550.67 280.95h1.8M554.23 278.90V281.54M553.33 278.90h1.8M553.33 281.54h1.8M556.90 277.85V281.51M556.00 277.85h1.8M556.00 281.51h1.8M559.56 277.60V280.13M558.66 277.60h1.8M558.66 280.13h1.8M562.23 277.28V280.75M561.33 277.28h1.8M561.33 280.75h1.8M564.89 278.85V281.58M563.99 278.85h1.8M563.99 281.58h1.8M567.56 278.78V282.29M566.66 278.78h1.8M566.66 282.29h1.8M570.22 277.83V281.51M569.32 277.83h1.8M569.32 281.51h1.8M572.89 277.93V281.12M571.99 277.93h1.8M571.99 281.12h1.8M575.55 278.24V281.19M574.65 278.24h1.8M574.65 281.19h1.8M578.22 279.40V282.40M577.32 279.40h1.8M577.32 282.40h1.8M580.88 280.15V282.16M579.98 280.15h1.8M579.98 282.16h1.8M583.55 278.99V280.78M582.65 278.99h1.8M582.65 280.78h1.8M586.21 280.18V282.09M585.31 280.18h1.8M585.31 282.09h1.8M588.88 278.75V280.84M587.98 278.75h1.8M587.98 280.84h1.8M591.54 279.56V283.13M590.64 279.56h1.8M590.64 283.13h1.8M594.21 279.43V283.01M593.31 279.43h1.8M593.31 283.01h1.8M596.87 278.52V282.08M595.97 278.52h1.8M595.97 282.08h1.8M599.54 278.36V281.35M598.64 278.36h1.8M598.64 281.35h1.8M602.20 279.29V281.05M601.30 279.29h1.8M601.30 281.05h1.8M604.87 278.86V281.69M603.97 278.86h1.8M603.97 281.69h1.8M607.53 279.45V281.37M606.63 279.45h1.8M606.63 281.37h1.8M610.20 278.51V282.29M609.30 278.51h1.8M609.30 282.29h1.8M612.86 280.45V282.86M611.96 280.45h1.8M611.96 282.86h1.8M615.53 279.04V282.59M614.63 279.04h1.8M614.63 282.59h1.8M618.19 280.38V282.47M617.29 280.38h1.8M617.29 282.47h1.8M620.86 279.93V283.00M619.96 279.93h1.8M619.96 283.00h1.8M623.52 279.34V281.91M622.62 279.34h1.8M622.62 281.91h1.8M626.19 280.06V282.64M625.29 280.06h1.8M625.29 282.64h1.8M628.85 280.11V282.74M627.95 280.11h1.8M627.95 282.74h1.8M631.52 280.54V283.35M630.62 280.54h1.8M630.62 283.35h1.8M634.18 279.12V281.73M633.28 279.12h1.8M633.28 281.73h1.8M636.85 279.85V281.89M635.95 279.85h1.8M635.95 281.89h1.8M639.51 279.32V282.71M638.61 279.32h1.8M638.61 282.71h1.8M642.17 279.67V282.52M641.27 279.67h1.8M641.27 282.52h1.8M644.84 279.91V283.04M643.94 279.91h1.8M643.94 283.04h1.8M647.50 279.78V281.80M646.60 279.78h1.8M646.60 281.80h1.8M650.17 280.56V283.93M649.27 280.56h1.8M649.27 283.93h1.8M652.83 279.43V282.28M651.93 279.43h1.8M651.93 282.28h1.8M655.50 280.08V283.38M654.60 280.08h1.8M654.60 283.38h1.8M658.16 281.09V283.37M657.26 281.09h1.8M657.26 283.37h1.8M660.83 280.75V283.75M659.93 280.75h1.8M659.93 283.75h1.8M663.49 280.99V283.20M662.59 280.99h1.8M662.59 283.20h1.8" stroke="#7cc8ee" stroke-width="0.4" fill="none"/>
<g fill="none" stroke="#7cc8ee" stroke-width="0.55"><circle cx="503.60" cy="278.69" r="1.45"/><circle cx="506.26" cy="278.65" r="1.45"/><circle cx="508.93" cy="277.24" r="1.45"/><circle cx="511.59" cy="278.88" r="1.45"/><circle cx="514.26" cy="278.56" r="1.45"/><circle cx="516.92" cy="278.58" r="1.45"/><circle cx="519.59" cy="278.25" r="1.45"/><circle cx="522.25" cy="279.03" r="1.45"/><circle cx="524.92" cy="279.23" r="1.45"/><circle cx="527.58" cy="278.27" r="1.45"/><circle cx="530.25" cy="279.47" r="1.45"/><circle cx="532.91" cy="279.03" r="1.45"/><circle cx="535.58" cy="278.40" r="1.45"/><circle cx="538.24" cy="278.45" r="1.45"/><circle cx="540.91" cy="279.18" r="1.45"/><circle cx="543.57" cy="279.15" r="1.45"/><circle cx="546.24" cy="279.36" r="1.45"/><circle cx="548.90" cy="279.37" r="1.45"/><circle cx="551.57" cy="279.32" r="1.45"/><circle cx="554.23" cy="280.22" r="1.45"/><circle cx="556.90" cy="279.68" r="1.45"/><circle cx="559.56" cy="278.86" r="1.45"/><circle cx="562.23" cy="279.01" r="1.45"/><circle cx="564.89" cy="280.21" r="1.45"/><circle cx="567.56" cy="280.54" r="1.45"/><circle cx="570.22" cy="279.67" r="1.45"/><circle cx="572.89" cy="279.53" r="1.45"/><circle cx="575.55" cy="279.71" r="1.45"/><circle cx="578.22" cy="280.90" r="1.45"/><circle cx="580.88" cy="281.15" r="1.45"/><circle cx="583.55" cy="279.89" r="1.45"/><circle cx="586.21" cy="281.13" r="1.45"/><circle cx="588.88" cy="279.79" r="1.45"/><circle cx="591.54" cy="281.34" r="1.45"/><circle cx="594.21" cy="281.22" r="1.45"/><circle cx="596.87" cy="280.30" r="1.45"/><circle cx="599.54" cy="279.85" r="1.45"/><circle cx="602.20" cy="280.17" r="1.45"/><circle cx="604.87" cy="280.27" r="1.45"/><circle cx="607.53" cy="280.41" r="1.45"/><circle cx="610.20" cy="280.40" r="1.45"/><circle cx="612.86" cy="281.65" r="1.45"/><circle cx="615.53" cy="280.82" r="1.45"/><circle cx="618.19" cy="281.43" r="1.45"/><circle cx="620.86" cy="281.46" r="1.45"/><circle cx="623.52" cy="280.63" r="1.45"/><circle cx="626.19" cy="281.35" r="1.45"/><circle cx="628.85" cy="281.43" r="1.45"/><circle cx="631.52" cy="281.94" r="1.45"/><circle cx="634.18" cy="280.43" r="1.45"/><circle cx="636.85" cy="280.87" r="1.45"/><circle cx="639.51" cy="281.02" r="1.45"/><circle cx="642.17" cy="281.09" r="1.45"/><circle cx="644.84" cy="281.47" r="1.45"/><circle cx="647.50" cy="280.79" r="1.45"/><circle cx="650.17" cy="282.25" r="1.45"/><circle cx="652.83" cy="280.85" r="1.45"/><circle cx="655.50" cy="281.73" r="1.45"/><circle cx="658.16" cy="282.23" r="1.45"/><circle cx="660.83" cy="282.25" r="1.45"/><circle cx="663.49" cy="282.10" r="1.45"/></g>
<path d="M503.60 272.20V276.98M502.70 272.20h1.8M502.70 276.98h1.8M506.26 273.30V277.38M505.36 273.30h1.8M505.36 277.38h1.8M508.93 272.93V277.44M508.03 272.93h1.8M508.03 277.44h1.8M511.59 273.51V276.37M510.69 273.51h1.8M510.69 276.37h1.8M514.26 274.55V276.72M513.36 274.55h1.8M513.36 276.72h1.8M516.92 273.64V276.82M516.02 273.64h1.8M516.02 276.82h1.8M519.59 274.26V277.38M518.69 274.26h1.8M518.69 277.38h1.8M522.25 273.47V277.75M521.35 273.47h1.8M521.35 277.75h1.8M524.92 273.53V278.42M524.02 273.53h1.8M524.02 278.42h1.8M527.58 273.54V277.33M526.68 273.54h1.8M526.68 277.33h1.8M530.25 273.29V277.73M529.35 273.29h1.8M529.35 277.73h1.8M532.91 273.11V276.78M532.01 273.11h1.8M532.01 276.78h1.8M535.58 273.53V277.66M534.68 273.53h1.8M534.68 277.66h1.8M538.24 273.37V276.60M537.34 273.37h1.8M537.34 276.60h1.8M540.91 272.85V277.66M540.01 272.85h1.8M540.01 277.66h1.8M543.57 274.40V277.15M542.67 274.40h1.8M542.67 277.15h1.8M546.24 274.17V278.30M545.34 274.17h1.8M545.34 278.30h1.8M548.90 273.12V277.91M548.00 273.12h1.8M548.00 277.91h1.8M551.57 273.86V276.65M550.67 273.86h1.8M550.67 276.65h1.8M554.23 275.06V277.89M553.33 275.06h1.8M553.33 277.89h1.8M556.90 274.49V278.57M556.00 274.49h1.8M556.00 278.57h1.8M559.56 273.09V277.72M558.66 273.09h1.8M558.66 277.72h1.8M562.23 274.25V278.78M561.33 274.25h1.8M561.33 278.78h1.8M564.89 274.82V278.11M563.99 274.82h1.8M563.99 278.11h1.8M567.56 274.62V276.96M566.66 274.62h1.8M566.66 276.96h1.8M570.22 274.73V279.18M569.32 274.73h1.8M569.32 279.18h1.8M572.89 275.11V278.22M571.99 275.11h1.8M571.99 278.22h1.8M575.55 274.21V278.21M574.65 274.21h1.8M574.65 278.21h1.8M578.22 275.74V278.79M577.32 275.74h1.8M577.32 278.79h1.8M580.88 274.83V278.30M579.98 274.83h1.8M579.98 278.30h1.8M583.55 275.14V278.89M582.65 275.14h1.8M582.65 278.89h1.8M586.21 274.16V277.37M585.31 274.16h1.8M585.31 277.37h1.8M588.88 275.33V277.77M587.98 275.33h1.8M587.98 277.77h1.8M591.54 275.09V279.07M590.64 275.09h1.8M590.64 279.07h1.8M594.21 275.12V279.72M593.31 275.12h1.8M593.31 279.72h1.8M596.87 274.89V277.27M595.97 274.89h1.8M595.97 277.27h1.8M599.54 274.51V277.66M598.64 274.51h1.8M598.64 277.66h1.8M602.20 274.32V278.55M601.30 274.32h1.8M601.30 278.55h1.8M604.87 275.33V279.34M603.97 275.33h1.8M603.97 279.34h1.8M607.53 274.58V278.95M606.63 274.58h1.8M606.63 278.95h1.8M610.20 275.39V279.62M609.30 275.39h1.8M609.30 279.62h1.8M612.86 274.34V278.34M611.96 274.34h1.8M611.96 278.34h1.8M615.53 275.93V278.36M614.63 275.93h1.8M614.63 278.36h1.8M618.19 275.73V278.83M617.29 275.73h1.8M617.29 278.83h1.8M620.86 274.94V278.95M619.96 274.94h1.8M619.96 278.95h1.8M623.52 275.96V278.58M622.62 275.96h1.8M622.62 278.58h1.8M626.19 275.25V279.13M625.29 275.25h1.8M625.29 279.13h1.8M628.85 275.76V280.37M627.95 275.76h1.8M627.95 280.37h1.8M631.52 276.06V278.51M630.62 276.06h1.8M630.62 278.51h1.8M634.18 275.61V278.11M633.28 275.61h1.8M633.28 278.11h1.8M636.85 275.91V280.04M635.95 275.91h1.8M635.95 280.04h1.8M639.51 275.73V279.40M638.61 275.73h1.8M638.61 279.40h1.8M642.17 275.84V279.23M641.27 275.84h1.8M641.27 279.23h1.8M644.84 276.88V279.48M643.94 276.88h1.8M643.94 279.48h1.8M647.50 276.61V280.73M646.60 276.61h1.8M646.60 280.73h1.8M650.17 275.71V279.34M649.27 275.71h1.8M649.27 279.34h1.8M652.83 276.05V279.16M651.93 276.05h1.8M651.93 279.16h1.8M655.50 276.91V280.09M654.60 276.91h1.8M654.60 280.09h1.8M658.16 276.38V278.60M657.26 276.38h1.8M657.26 278.60h1.8M660.83 276.80V279.60M659.93 276.80h1.8M659.93 279.60h1.8M663.49 276.24V279.34M662.59 276.24h1.8M662.59 279.34h1.8" stroke="#404040" stroke-width="0.4" fill="none"/>
<g fill="none" stroke="#404040" stroke-width="0.55"><circle cx="503.60" cy="274.59" r="1.45"/><circle cx="506.26" cy="275.34" r="1.45"/><circle cx="508.93" cy="275.19" r="1.45"/><circle cx="511.59" cy="274.94" r="1.45"/><circle cx="514.26" cy="275.63" r="1.45"/><circle cx="516.92" cy="275.23" r="1.45"/><circle cx="519.59" cy="275.82" r="1.45"/><circle cx="522.25" cy="275.61" r="1.45"/><circle cx="524.92" cy="275.97" r="1.45"/><circle cx="527.58" cy="275.44" r="1.45"/><circle cx="530.25" cy="275.51" r="1.45"/><circle cx="532.91" cy="274.94" r="1.45"/><circle cx="535.58" cy="275.59" r="1.45"/><circle cx="538.24" cy="274.99" r="1.45"/><circle cx="540.91" cy="275.25" r="1.45"/><circle cx="543.57" cy="275.77" r="1.45"/><circle cx="546.24" cy="276.24" r="1.45"/><circle cx="548.90" cy="275.51" r="1.45"/><circle cx="551.57" cy="275.25" r="1.45"/><circle cx="554.23" cy="276.47" r="1.45"/><circle cx="556.90" cy="276.53" r="1.45"/><circle cx="559.56" cy="275.40" r="1.45"/><circle cx="562.23" cy="276.52" r="1.45"/><circle cx="564.89" cy="276.47" r="1.45"/><circle cx="567.56" cy="275.79" r="1.45"/><circle cx="570.22" cy="276.96" r="1.45"/><circle cx="572.89" cy="276.66" r="1.45"/><circle cx="575.55" cy="276.21" r="1.45"/><circle cx="578.22" cy="277.27" r="1.45"/><circle cx="580.88" cy="276.57" r="1.45"/><circle cx="583.55" cy="277.02" r="1.45"/><circle cx="586.21" cy="275.77" r="1.45"/><circle cx="588.88" cy="276.55" r="1.45"/><circle cx="591.54" cy="277.08" r="1.45"/><circle cx="594.21" cy="277.42" r="1.45"/><circle cx="596.87" cy="276.08" r="1.45"/><circle cx="599.54" cy="276.08" r="1.45"/><circle cx="602.20" cy="276.44" r="1.45"/><circle cx="604.87" cy="277.33" r="1.45"/><circle cx="607.53" cy="276.76" r="1.45"/><circle cx="610.20" cy="277.50" r="1.45"/><circle cx="612.86" cy="276.34" r="1.45"/><circle cx="615.53" cy="277.15" r="1.45"/><circle cx="618.19" cy="277.28" r="1.45"/><circle cx="620.86" cy="276.94" r="1.45"/><circle cx="623.52" cy="277.27" r="1.45"/><circle cx="626.19" cy="277.19" r="1.45"/><circle cx="628.85" cy="278.06" r="1.45"/><circle cx="631.52" cy="277.29" r="1.45"/><circle cx="634.18" cy="276.86" r="1.45"/><circle cx="636.85" cy="277.97" r="1.45"/><circle cx="639.51" cy="277.56" r="1.45"/><circle cx="642.17" cy="277.54" r="1.45"/><circle cx="644.84" cy="278.18" r="1.45"/><circle cx="647.50" cy="278.67" r="1.45"/><circle cx="650.17" cy="277.52" r="1.45"/><circle cx="652.83" cy="277.61" r="1.45"/><circle cx="655.50" cy="278.50" r="1.45"/><circle cx="658.16" cy="277.49" r="1.45"/><circle cx="660.83" cy="278.20" r="1.45"/><circle cx="663.49" cy="277.79" r="1.45"/></g>
<path d="M503.60 273.86V279.04M502.70 273.86h1.8M502.70 279.04h1.8M506.26 272.63V279.47M505.36 272.63h1.8M505.36 279.47h1.8M508.93 272.76V279.93M508.03 272.76h1.8M508.03 279.93h1.8M511.59 274.44V279.02M510.69 274.44h1.8M510.69 279.02h1.8M514.26 274.78V278.66M513.36 274.78h1.8M513.36 278.66h1.8M516.92 272.17V278.81M516.02 272.17h1.8M516.02 278.81h1.8M519.59 274.39V278.61M518.69 274.39h1.8M518.69 278.61h1.8M522.25 272.70V279.41M521.35 272.70h1.8M521.35 279.41h1.8M524.92 271.95V278.69M524.02 271.95h1.8M524.02 278.69h1.8M527.58 273.66V277.69M526.68 273.66h1.8M526.68 277.69h1.8M530.25 273.86V278.10M529.35 273.86h1.8M529.35 278.10h1.8M532.91 272.67V278.60M532.01 272.67h1.8M532.01 278.60h1.8M535.58 273.84V278.33M534.68 273.84h1.8M534.68 278.33h1.8M538.24 273.19V276.69M537.34 273.19h1.8M537.34 276.69h1.8M540.91 271.09V278.47M540.01 271.09h1.8M540.01 278.47h1.8M543.57 271.86V276.95M542.67 271.86h1.8M542.67 276.95h1.8M546.24 271.98V277.97M545.34 271.98h1.8M545.34 277.97h1.8M548.90 270.83V278.59M548.00 270.83h1.8M548.00 278.59h1.8M551.57 272.14V276.85M550.67 272.14h1.8M550.67 276.85h1.8M554.23 271.30V276.84M553.33 271.30h1.8M553.33 276.84h1.8M556.90 271.08V277.72M556.00 271.08h1.8M556.00 277.72h1.8M559.56 271.91V278.74M558.66 271.91h1.8M558.66 278.74h1.8M562.23 271.26V276.84M561.33 271.26h1.8M561.33 276.84h1.8M564.89 271.45V276.89M563.99 271.45h1.8M563.99 276.89h1.8M567.56 271.75V277.50M566.66 271.75h1.8M566.66 277.50h1.8M570.22 271.97V277.58M569.32 271.97h1.8M569.32 277.58h1.8M572.89 270.90V276.27M571.99 270.90h1.8M571.99 276.27h1.8M575.55 269.76V277.44M574.65 269.76h1.8M574.65 277.44h1.8M578.22 270.92V274.90M577.32 270.92h1.8M577.32 274.90h1.8M580.88 269.87V276.04M579.98 269.87h1.8M579.98 276.04h1.8M583.55 271.64V276.63M582.65 271.64h1.8M582.65 276.63h1.8M586.21 271.92V275.64M585.31 271.92h1.8M585.31 275.64h1.8M588.88 269.44V276.98M587.98 269.44h1.8M587.98 276.98h1.8M591.54 269.91V277.19M590.64 269.91h1.8M590.64 277.19h1.8M594.21 270.88V274.85M593.31 270.88h1.8M593.31 274.85h1.8M596.87 269.51V275.58M595.97 269.51h1.8M595.97 275.58h1.8M599.54 269.09V275.68M598.64 269.09h1.8M598.64 275.68h1.8M602.20 270.22V275.14M601.30 270.22h1.8M601.30 275.14h1.8M604.87 268.75V276.31M603.97 268.75h1.8M603.97 276.31h1.8M607.53 269.73V275.06M606.63 269.73h1.8M606.63 275.06h1.8M610.20 269.77V275.32M609.30 269.77h1.8M609.30 275.32h1.8M612.86 271.87V275.43M611.96 271.87h1.8M611.96 275.43h1.8M615.53 271.53V275.80M614.63 271.53h1.8M614.63 275.80h1.8M618.19 270.69V276.29M617.29 270.69h1.8M617.29 276.29h1.8M620.86 269.61V275.40M619.96 269.61h1.8M619.96 275.40h1.8M623.52 269.81V276.10M622.62 269.81h1.8M622.62 276.10h1.8M626.19 270.40V275.86M625.29 270.40h1.8M625.29 275.86h1.8M628.85 269.71V274.89M627.95 269.71h1.8M627.95 274.89h1.8M631.52 269.57V276.98M630.62 269.57h1.8M630.62 276.98h1.8M634.18 269.79V274.80M633.28 269.79h1.8M633.28 274.80h1.8M636.85 270.00V275.75M635.95 270.00h1.8M635.95 275.75h1.8M639.51 270.25V274.63M638.61 270.25h1.8M638.61 274.63h1.8M642.17 271.29V275.60M641.27 271.29h1.8M641.27 275.60h1.8M644.84 270.04V274.05M643.94 270.04h1.8M643.94 274.05h1.8M647.50 270.45V274.70M646.60 270.45h1.8M646.60 274.70h1.8M650.17 270.91V275.05M649.27 270.91h1.8M649.27 275.05h1.8M652.83 270.54V274.67M651.93 270.54h1.8M651.93 274.67h1.8M655.50 271.30V275.16M654.60 271.30h1.8M654.60 275.16h1.8M658.16 270.16V275.73M657.26 270.16h1.8M657.26 275.73h1.8M660.83 271.37V274.84M659.93 271.37h1.8M659.93 274.84h1.8M663.49 269.79V274.99M662.59 269.79h1.8M662.59 274.99h1.8" stroke="#2aa5a0" stroke-width="0.4" fill="none"/>
<g fill="none" stroke="#2aa5a0" stroke-width="0.55"><circle cx="503.60" cy="276.45" r="1.45"/><circle cx="506.26" cy="276.05" r="1.45"/><circle cx="508.93" cy="276.34" r="1.45"/><circle cx="511.59" cy="276.73" r="1.45"/><circle cx="514.26" cy="276.72" r="1.45"/><circle cx="516.92" cy="275.49" r="1.45"/><circle cx="519.59" cy="276.50" r="1.45"/><circle cx="522.25" cy="276.06" r="1.45"/><circle cx="524.92" cy="275.32" r="1.45"/><circle cx="527.58" cy="275.68" r="1.45"/><circle cx="530.25" cy="275.98" r="1.45"/><circle cx="532.91" cy="275.63" r="1.45"/><circle cx="535.58" cy="276.08" r="1.45"/><circle cx="538.24" cy="274.94" r="1.45"/><circle cx="540.91" cy="274.78" r="1.45"/><circle cx="543.57" cy="274.40" r="1.45"/><circle cx="546.24" cy="274.98" r="1.45"/><circle cx="548.90" cy="274.71" r="1.45"/><circle cx="551.57" cy="274.49" r="1.45"/><circle cx="554.23" cy="274.07" r="1.45"/><circle cx="556.90" cy="274.40" r="1.45"/><circle cx="559.56" cy="275.33" r="1.45"/><circle cx="562.23" cy="274.05" r="1.45"/><circle cx="564.89" cy="274.17" r="1.45"/><circle cx="567.56" cy="274.62" r="1.45"/><circle cx="570.22" cy="274.77" r="1.45"/><circle cx="572.89" cy="273.58" r="1.45"/><circle cx="575.55" cy="273.60" r="1.45"/><circle cx="578.22" cy="272.91" r="1.45"/><circle cx="580.88" cy="272.96" r="1.45"/><circle cx="583.55" cy="274.14" r="1.45"/><circle cx="586.21" cy="273.78" r="1.45"/><circle cx="588.88" cy="273.21" r="1.45"/><circle cx="591.54" cy="273.55" r="1.45"/><circle cx="594.21" cy="272.87" r="1.45"/><circle cx="596.87" cy="272.54" r="1.45"/><circle cx="599.54" cy="272.39" r="1.45"/><circle cx="602.20" cy="272.68" r="1.45"/><circle cx="604.87" cy="272.53" r="1.45"/><circle cx="607.53" cy="272.40" r="1.45"/><circle cx="610.20" cy="272.55" r="1.45"/><circle cx="612.86" cy="273.65" r="1.45"/><circle cx="615.53" cy="273.67" r="1.45"/><circle cx="618.19" cy="273.49" r="1.45"/><circle cx="620.86" cy="272.51" r="1.45"/><circle cx="623.52" cy="272.96" r="1.45"/><circle cx="626.19" cy="273.13" r="1.45"/><circle cx="628.85" cy="272.30" r="1.45"/><circle cx="631.52" cy="273.28" r="1.45"/><circle cx="634.18" cy="272.30" r="1.45"/><circle cx="636.85" cy="272.87" r="1.45"/><circle cx="639.51" cy="272.44" r="1.45"/><circle cx="642.17" cy="273.45" r="1.45"/><circle cx="644.84" cy="272.04" r="1.45"/><circle cx="647.50" cy="272.58" r="1.45"/><circle cx="650.17" cy="272.98" r="1.45"/><circle cx="652.83" cy="272.60" r="1.45"/><circle cx="655.50" cy="273.23" r="1.45"/><circle cx="658.16" cy="272.95" r="1.45"/><circle cx="660.83" cy="273.10" r="1.45"/><circle cx="663.49" cy="272.39" r="1.45"/></g>
<path d="M503.60 265.53V267.11M502.70 265.53h1.8M502.70 267.11h1.8M506.26 267.84V270.10M505.36 267.84h1.8M505.36 270.10h1.8M508.93 270.06V273.44M508.03 270.06h1.8M508.03 273.44h1.8M511.59 272.13V273.79M510.69 272.13h1.8M510.69 273.79h1.8M514.26 272.78V274.58M513.36 272.78h1.8M513.36 274.58h1.8M516.92 273.50V275.66M516.02 273.50h1.8M516.02 275.66h1.8M519.59 275.83V277.41M518.69 275.83h1.8M518.69 277.41h1.8M522.25 275.89V277.90M521.35 275.89h1.8M521.35 277.90h1.8M524.92 276.96V279.34M524.02 276.96h1.8M524.02 279.34h1.8M527.58 278.23V280.29M526.68 278.23h1.8M526.68 280.29h1.8M530.25 280.84V282.84M529.35 280.84h1.8M529.35 282.84h1.8M532.91 281.08V283.79M532.01 281.08h1.8M532.01 283.79h1.8M535.58 284.02V285.67M534.68 284.02h1.8M534.68 285.67h1.8M538.24 284.15V287.53M537.34 284.15h1.8M537.34 287.53h1.8M540.91 286.81V288.29M540.01 286.81h1.8M540.01 288.29h1.8M543.57 289.22V290.87M542.67 289.22h1.8M542.67 290.87h1.8M546.24 290.53V292.07M545.34 290.53h1.8M545.34 292.07h1.8M548.90 291.63V294.39M548.00 291.63h1.8M548.00 294.39h1.8M551.57 292.21V294.08M550.67 292.21h1.8M550.67 294.08h1.8M554.23 293.51V295.92M553.33 293.51h1.8M553.33 295.92h1.8M556.90 295.07V298.35M556.00 295.07h1.8M556.00 298.35h1.8M559.56 297.33V298.87M558.66 297.33h1.8M558.66 298.87h1.8M562.23 299.47V302.14M561.33 299.47h1.8M561.33 302.14h1.8M564.89 300.45V302.10M563.99 300.45h1.8M563.99 302.10h1.8M567.56 302.44V305.58M566.66 302.44h1.8M566.66 305.58h1.8M570.22 304.80V307.04M569.32 304.80h1.8M569.32 307.04h1.8M572.89 305.72V308.53M571.99 305.72h1.8M571.99 308.53h1.8M575.55 306.77V308.58M574.65 306.77h1.8M574.65 308.58h1.8M578.22 308.14V311.06M577.32 308.14h1.8M577.32 311.06h1.8M580.88 309.62V312.18M579.98 309.62h1.8M579.98 312.18h1.8M583.55 310.89V313.08M582.65 310.89h1.8M582.65 313.08h1.8M586.21 313.15V315.07M585.31 313.15h1.8M585.31 315.07h1.8M588.88 313.50V315.92M587.98 313.50h1.8M587.98 315.92h1.8M591.54 315.93V317.74M590.64 315.93h1.8M590.64 317.74h1.8M594.21 315.95V318.61M593.31 315.95h1.8M593.31 318.61h1.8M596.87 317.41V319.65M595.97 317.41h1.8M595.97 319.65h1.8M599.54 319.27V321.05M598.64 319.27h1.8M598.64 321.05h1.8M602.20 320.11V321.63M601.30 320.11h1.8M601.30 321.63h1.8M604.87 320.90V323.86M603.97 320.90h1.8M603.97 323.86h1.8M607.53 322.25V323.92M606.63 322.25h1.8M606.63 323.92h1.8M610.20 323.37V326.50M609.30 323.37h1.8M609.30 326.50h1.8M612.86 323.70V326.90M611.96 323.70h1.8M611.96 326.90h1.8M615.53 324.79V327.15M614.63 324.79h1.8M614.63 327.15h1.8M618.19 325.55V328.46M617.29 325.55h1.8M617.29 328.46h1.8M620.86 327.91V330.11M619.96 327.91h1.8M619.96 330.11h1.8M623.52 329.20V331.46M622.62 329.20h1.8M622.62 331.46h1.8M626.19 328.81V330.49M625.29 328.81h1.8M625.29 330.49h1.8M628.85 330.35V332.04M627.95 330.35h1.8M627.95 332.04h1.8M631.52 331.54V334.29M630.62 331.54h1.8M630.62 334.29h1.8M634.18 332.71V334.28M633.28 332.71h1.8M633.28 334.28h1.8M636.85 333.15V335.89M635.95 333.15h1.8M635.95 335.89h1.8M639.51 333.88V335.37M638.61 333.88h1.8M638.61 335.37h1.8M642.17 334.06V337.43M641.27 334.06h1.8M641.27 337.43h1.8M644.84 334.88V337.46M643.94 334.88h1.8M643.94 337.46h1.8M647.50 334.72V337.73M646.60 334.72h1.8M646.60 337.73h1.8M650.17 334.79V337.82M649.27 334.79h1.8M649.27 337.82h1.8M652.83 333.80V339.86M651.93 333.80h1.8M651.93 339.86h1.8M655.50 334.90V340.74M654.60 334.90h1.8M654.60 340.74h1.8M658.16 333.90V339.81M657.26 333.90h1.8M657.26 339.81h1.8M660.83 334.63V342.22M659.93 334.63h1.8M659.93 342.22h1.8M663.49 334.56V342.01M662.59 334.56h1.8M662.59 342.01h1.8" stroke="#e8488a" stroke-width="0.4" fill="none"/>
<g fill="none" stroke="#e8488a" stroke-width="0.55"><circle cx="503.60" cy="266.32" r="1.6"/><circle cx="506.26" cy="268.97" r="1.6"/><circle cx="508.93" cy="271.75" r="1.6"/><circle cx="511.59" cy="272.96" r="1.6"/><circle cx="514.26" cy="273.68" r="1.6"/><circle cx="516.92" cy="274.58" r="1.6"/><circle cx="519.59" cy="276.62" r="1.6"/><circle cx="522.25" cy="276.89" r="1.6"/><circle cx="524.92" cy="278.15" r="1.6"/><circle cx="527.58" cy="279.26" r="1.6"/><circle cx="530.25" cy="281.84" r="1.6"/><circle cx="532.91" cy="282.44" r="1.6"/><circle cx="535.58" cy="284.84" r="1.6"/><circle cx="538.24" cy="285.84" r="1.6"/><circle cx="540.91" cy="287.55" r="1.6"/><circle cx="543.57" cy="290.04" r="1.6"/><circle cx="546.24" cy="291.30" r="1.6"/><circle cx="548.90" cy="293.01" r="1.6"/><circle cx="551.57" cy="293.14" r="1.6"/><circle cx="554.23" cy="294.71" r="1.6"/><circle cx="556.90" cy="296.71" r="1.6"/><circle cx="559.56" cy="298.10" r="1.6"/><circle cx="562.23" cy="300.81" r="1.6"/><circle cx="564.89" cy="301.27" r="1.6"/><circle cx="567.56" cy="304.01" r="1.6"/><circle cx="570.22" cy="305.92" r="1.6"/><circle cx="572.89" cy="307.13" r="1.6"/><circle cx="575.55" cy="307.67" r="1.6"/><circle cx="578.22" cy="309.60" r="1.6"/><circle cx="580.88" cy="310.90" r="1.6"/><circle cx="583.55" cy="311.98" r="1.6"/><circle cx="586.21" cy="314.11" r="1.6"/><circle cx="588.88" cy="314.71" r="1.6"/><circle cx="591.54" cy="316.84" r="1.6"/><circle cx="594.21" cy="317.28" r="1.6"/><circle cx="596.87" cy="318.53" r="1.6"/><circle cx="599.54" cy="320.16" r="1.6"/><circle cx="602.20" cy="320.87" r="1.6"/><circle cx="604.87" cy="322.38" r="1.6"/><circle cx="607.53" cy="323.08" r="1.6"/><circle cx="610.20" cy="324.93" r="1.6"/><circle cx="612.86" cy="325.30" r="1.6"/><circle cx="615.53" cy="325.97" r="1.6"/><circle cx="618.19" cy="327.00" r="1.6"/><circle cx="620.86" cy="329.01" r="1.6"/><circle cx="623.52" cy="330.33" r="1.6"/><circle cx="626.19" cy="329.65" r="1.6"/><circle cx="628.85" cy="331.19" r="1.6"/><circle cx="631.52" cy="332.91" r="1.6"/><circle cx="634.18" cy="333.50" r="1.6"/><circle cx="636.85" cy="334.52" r="1.6"/><circle cx="639.51" cy="334.63" r="1.6"/><circle cx="642.17" cy="335.75" r="1.6"/><circle cx="644.84" cy="336.17" r="1.6"/><circle cx="647.50" cy="336.22" r="1.6"/><circle cx="650.17" cy="336.30" r="1.6"/><circle cx="652.83" cy="336.83" r="1.6"/><circle cx="655.50" cy="337.82" r="1.6"/><circle cx="658.16" cy="336.85" r="1.6"/><circle cx="660.83" cy="338.43" r="1.6"/><circle cx="663.49" cy="338.28" r="1.6"/></g>
<circle cx="503.4" cy="397.1" r="3.15" fill="none" stroke="#7cc8ee" stroke-width="0.8"/>
<circle cx="503.4" cy="412.6" r="3.15" fill="none" stroke="#404040" stroke-width="0.8"/>
<circle cx="503.4" cy="428.2" r="3.15" fill="none" stroke="#e8488a" stroke-width="0.8"/>
<circle cx="591.1" cy="397.1" r="3.15" fill="none" stroke="#2aa5a0" stroke-width="0.8"/>
<circle cx="591.1" cy="412.6" r="3.15" fill="none" stroke="#5f46a0" stroke-width="0.8"/>
<circle cx="591.1" cy="428.2" r="3.15" fill="none" stroke="#9a86c8" stroke-width="0.8"/>
<text x="511.60" y="399.90" font-size="7.0" text-anchor="start" fill="#3a3a3a" font-weight="normal" textLength="63.40" lengthAdjust="spacingAndGlyphs"><tspan font-style="italic">hs</tspan>26S proteasome</text>
<text x="511.60" y="415.00" font-size="7.0" text-anchor="start" fill="#3a3a3a" font-weight="normal" textLength="26.40" lengthAdjust="spacingAndGlyphs">+ FAT10</text>
<text x="511.60" y="430.60" font-size="7.0" text-anchor="start" fill="#3a3a3a" font-weight="normal" textLength="51.20" lengthAdjust="spacingAndGlyphs">+ NUB1 + FAT10</text>
<text x="599.10" y="399.60" font-size="7.0" text-anchor="start" fill="#3a3a3a" font-weight="normal" textLength="64.30" lengthAdjust="spacingAndGlyphs">+ NTD-UBL + FAT10</text>
<text x="599.10" y="414.80" font-size="7.0" text-anchor="start" fill="#3a3a3a" font-weight="normal" textLength="23.60" lengthAdjust="spacingAndGlyphs">+ NUB1</text>
<text x="623.00" y="410.90" font-size="4.6" text-anchor="start" fill="#3a3a3a" font-weight="normal" textLength="14.30" lengthAdjust="spacingAndGlyphs">Δ1–175</text>
<text x="639.00" y="414.80" font-size="7.0" text-anchor="start" fill="#3a3a3a" font-weight="normal" textLength="26.20" lengthAdjust="spacingAndGlyphs">+ FAT10</text>
<text x="599.10" y="430.40" font-size="7.0" text-anchor="start" fill="#3a3a3a" font-weight="normal" textLength="23.60" lengthAdjust="spacingAndGlyphs">+ NUB1</text>
<text x="623.00" y="426.50" font-size="4.6" text-anchor="start" fill="#3a3a3a" font-weight="normal" textLength="14.30" lengthAdjust="spacingAndGlyphs">Δ1–175</text>
<text x="599.10" y="439.10" font-size="7.0" text-anchor="start" fill="#3a3a3a" font-weight="normal" textLength="64.30" lengthAdjust="spacingAndGlyphs">+ NTD-UBL + FAT10</text>
</svg>
</body></html>
